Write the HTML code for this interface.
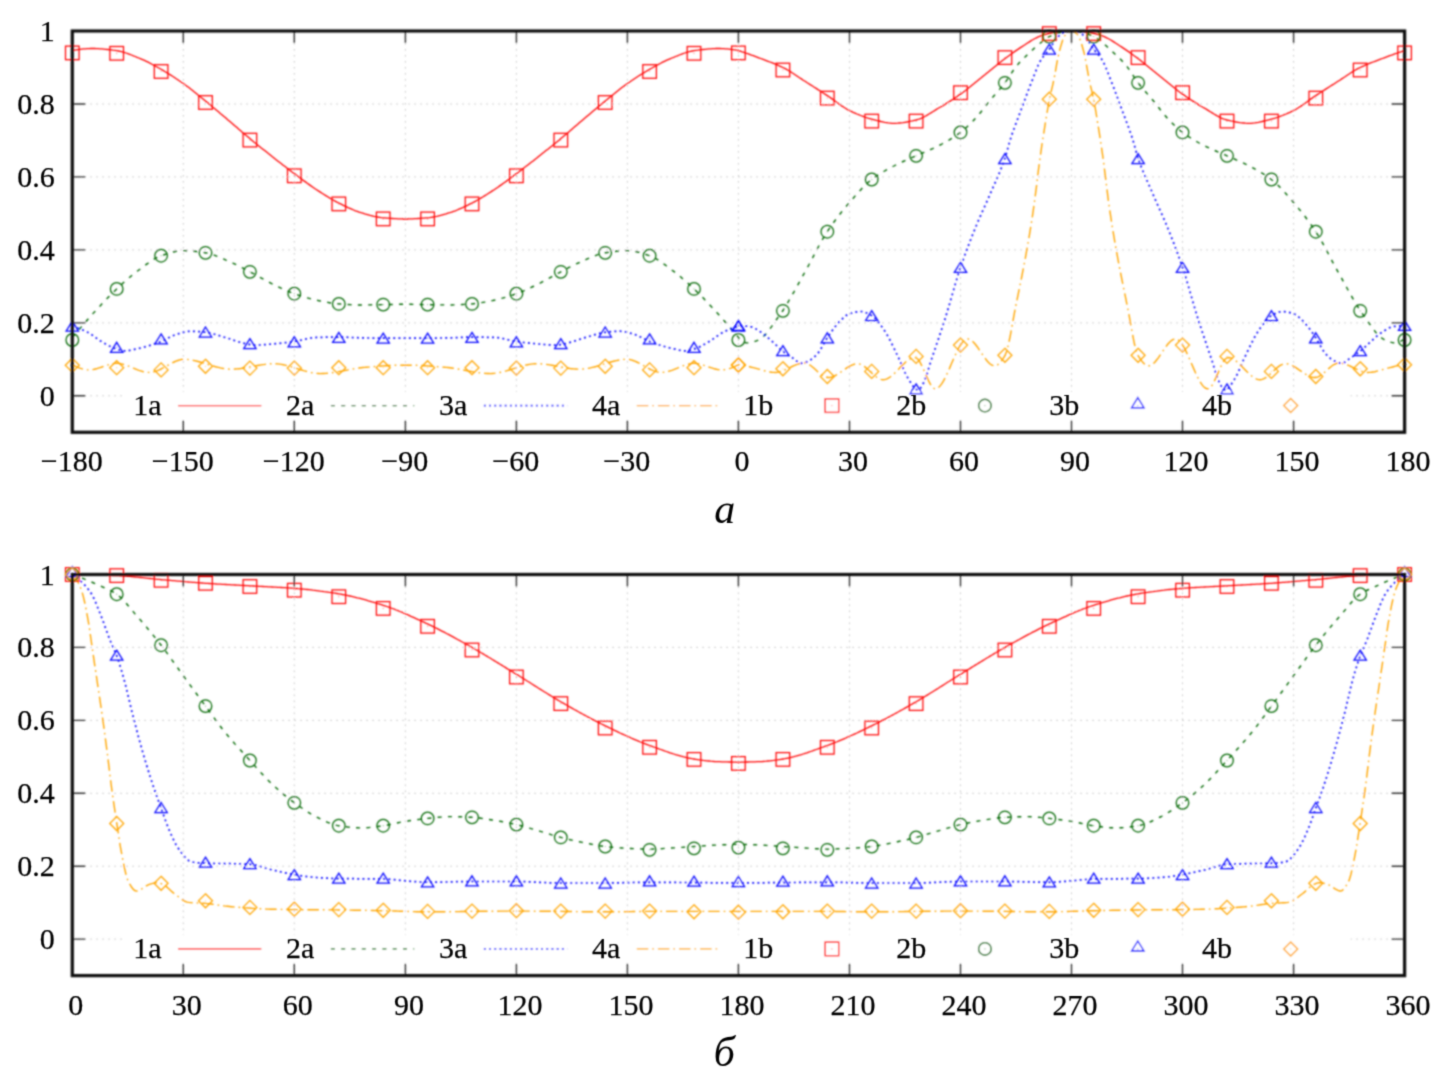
<!DOCTYPE html>
<html><head><meta charset="utf-8"><title>plot</title>
<style>
html,body{margin:0;padding:0;background:#fff;}
body{width:1452px;height:1080px;overflow:hidden;}
svg{display:block;}
.t{font-family:"Liberation Serif","Times New Roman",serif;font-size:30px;fill:#000;stroke:#000;stroke-width:0.25;}
.cap{font-family:"Liberation Serif","Times New Roman",serif;font-style:italic;font-size:42px;fill:#000;}
.grid{fill:none;stroke:#c6c6c6;stroke-width:1;stroke-dasharray:1.6 4.4;}
.tick{fill:none;stroke:#333;stroke-width:1.4;}
.frame{fill:none;stroke:#111;stroke-width:3.2;}
</style></head><body>
<svg width="1452" height="1080" viewBox="0 0 1452 1080">
<defs><filter id="bl" x="0" y="0" width="1452" height="1080" filterUnits="userSpaceOnUse"><feConvolveMatrix order="5" kernelMatrix="0.00087 0.00695 0.01388 0.00695 0.00087 0.00695 0.05540 0.11068 0.05540 0.00695 0.01388 0.11068 0.22111 0.11068 0.01388 0.00695 0.05540 0.11068 0.05540 0.00695 0.00087 0.00695 0.01388 0.00695 0.00087" edgeMode="none"/></filter><filter id="blt" x="0" y="0" width="1452" height="1080" filterUnits="userSpaceOnUse"><feConvolveMatrix order="5" kernelMatrix="0.00001 0.00042 0.00170 0.00042 0.00001 0.00042 0.02740 0.10988 0.02740 0.00042 0.00170 0.10988 0.44065 0.10988 0.00170 0.00042 0.02740 0.10988 0.02740 0.00042 0.00001 0.00042 0.00170 0.00042 0.00001" edgeMode="none"/></filter></defs>
<rect width="1452" height="1080" fill="#fff"/>
<g filter="url(#bl)">
<path d="M183.3,31.0V432.3M294.3,31.0V432.3M405.4,31.0V432.3M516.4,31.0V432.3M627.4,31.0V432.3M738.4,31.0V432.3M849.5,31.0V432.3M960.5,31.0V432.3M1071.5,31.0V432.3M1182.5,31.0V432.3M1293.6,31.0V432.3M72.3,395.8H1404.6M72.3,322.9H1404.6M72.3,249.9H1404.6M72.3,176.9H1404.6M72.3,104.0H1404.6" class="grid"/>
<rect x="123" y="391.8" width="1227.5" height="28" fill="#fff"/>
<path d="M72.3,50.5 L74.2,50.2 L76.0,49.9 L77.9,49.6 L79.7,49.3 L81.6,49.1 L83.4,48.9 L85.3,48.8 L87.1,48.7 L89.0,48.6 L90.8,48.5 L92.7,48.5 L94.5,48.5 L96.4,48.6 L98.2,48.7 L100.1,48.8 L101.9,48.9 L103.8,49.1 L105.6,49.3 L107.5,49.5 L109.3,49.7 L111.2,49.9 L113.0,50.2 L114.9,50.4 L116.7,50.7 L118.6,51.0 L120.4,51.4 L122.3,51.9 L124.1,52.4 L126.0,53.0 L127.8,53.6 L129.7,54.3 L131.5,55.0 L133.4,55.8 L135.2,56.5 L137.1,57.3 L138.9,58.0 L140.8,58.8 L142.6,59.6 L144.5,60.4 L146.3,61.3 L148.2,62.2 L150.0,63.2 L151.9,64.2 L153.7,65.2 L155.6,66.2 L157.4,67.2 L159.3,68.3 L161.1,69.3 L163.0,70.4 L164.8,71.5 L166.7,72.6 L168.5,73.7 L170.4,74.9 L172.2,76.0 L174.1,77.2 L175.9,78.5 L177.8,79.7 L179.6,81.0 L181.5,82.2 L183.3,83.5 L185.2,84.9 L187.0,86.2 L188.9,87.6 L190.7,89.1 L192.6,90.5 L194.4,92.0 L196.3,93.5 L198.1,95.0 L200.0,96.5 L201.8,98.0 L203.7,99.5 L205.5,101.0 L207.4,102.6 L209.2,104.1 L211.1,105.6 L212.9,107.2 L214.8,108.7 L216.6,110.3 L218.5,111.8 L220.3,113.4 L222.2,114.9 L224.0,116.5 L225.9,118.1 L227.7,119.7 L229.6,121.2 L231.4,122.8 L233.3,124.4 L235.1,126.0 L237.0,127.6 L238.8,129.2 L240.7,130.8 L242.5,132.4 L244.4,133.9 L246.2,135.5 L248.1,137.1 L249.9,138.6 L251.8,140.2 L253.6,141.7 L255.5,143.2 L257.3,144.7 L259.2,146.2 L261.0,147.7 L262.9,149.2 L264.7,150.6 L266.6,152.1 L268.4,153.6 L270.3,155.0 L272.1,156.5 L274.0,158.0 L275.8,159.4 L277.7,160.9 L279.5,162.3 L281.4,163.7 L283.2,165.2 L285.1,166.6 L286.9,168.0 L288.8,169.5 L290.6,170.9 L292.5,172.3 L294.3,173.6 L296.2,175.0 L298.1,176.4 L299.9,177.8 L301.8,179.2 L303.6,180.6 L305.5,181.9 L307.3,183.3 L309.2,184.6 L311.0,185.9 L312.9,187.2 L314.7,188.5 L316.6,189.7 L318.4,190.9 L320.3,192.1 L322.1,193.3 L324.0,194.5 L325.8,195.6 L327.7,196.8 L329.5,197.9 L331.4,199.0 L333.2,200.0 L335.1,201.1 L336.9,202.1 L338.8,203.0 L340.6,203.9 L342.5,204.9 L344.3,205.8 L346.2,206.7 L348.0,207.6 L349.9,208.4 L351.7,209.2 L353.6,210.0 L355.4,210.8 L357.3,211.4 L359.1,212.1 L361.0,212.7 L362.8,213.2 L364.7,213.8 L366.5,214.3 L368.4,214.8 L370.2,215.4 L372.1,215.8 L373.9,216.3 L375.8,216.7 L377.6,217.0 L379.5,217.3 L381.3,217.6 L383.2,217.8 L385.0,217.9 L386.9,218.1 L388.7,218.2 L390.6,218.4 L392.4,218.5 L394.3,218.6 L396.1,218.7 L398.0,218.8 L399.8,218.9 L401.7,218.9 L403.5,219.0 L405.4,219.0 L407.2,219.0 L409.1,218.9 L410.9,218.9 L412.8,218.8 L414.6,218.7 L416.5,218.6 L418.3,218.5 L420.2,218.4 L422.0,218.2 L423.9,218.1 L425.7,217.9 L427.6,217.8 L429.4,217.6 L431.3,217.3 L433.1,217.0 L435.0,216.7 L436.8,216.3 L438.7,215.8 L440.5,215.4 L442.4,214.8 L444.2,214.3 L446.1,213.8 L447.9,213.2 L449.8,212.7 L451.6,212.1 L453.5,211.4 L455.3,210.8 L457.2,210.0 L459.0,209.2 L460.9,208.4 L462.7,207.6 L464.6,206.7 L466.4,205.8 L468.3,204.9 L470.1,203.9 L472.0,203.0 L473.8,202.1 L475.7,201.1 L477.5,200.0 L479.4,199.0 L481.2,197.9 L483.1,196.8 L484.9,195.6 L486.8,194.5 L488.6,193.3 L490.5,192.1 L492.3,190.9 L494.2,189.7 L496.0,188.5 L497.9,187.2 L499.7,185.9 L501.6,184.6 L503.4,183.3 L505.3,181.9 L507.1,180.6 L509.0,179.2 L510.8,177.8 L512.7,176.4 L514.5,175.0 L516.4,173.6 L518.3,172.3 L520.1,170.9 L522.0,169.5 L523.8,168.0 L525.7,166.6 L527.5,165.2 L529.4,163.7 L531.2,162.3 L533.1,160.9 L534.9,159.4 L536.8,158.0 L538.6,156.5 L540.5,155.0 L542.3,153.6 L544.2,152.1 L546.0,150.6 L547.9,149.2 L549.7,147.7 L551.6,146.2 L553.4,144.7 L555.3,143.2 L557.1,141.7 L559.0,140.2 L560.8,138.6 L562.7,137.1 L564.5,135.5 L566.4,133.9 L568.2,132.4 L570.1,130.8 L571.9,129.2 L573.8,127.6 L575.6,126.0 L577.5,124.4 L579.3,122.8 L581.2,121.2 L583.0,119.7 L584.9,118.1 L586.7,116.5 L588.6,114.9 L590.4,113.4 L592.3,111.8 L594.1,110.3 L596.0,108.7 L597.8,107.2 L599.7,105.6 L601.5,104.1 L603.4,102.6 L605.2,101.0 L607.1,99.5 L608.9,98.0 L610.8,96.5 L612.6,95.0 L614.5,93.5 L616.3,92.0 L618.2,90.5 L620.0,89.1 L621.9,87.6 L623.7,86.2 L625.6,84.9 L627.4,83.5 L629.3,82.2 L631.1,81.0 L633.0,79.7 L634.8,78.5 L636.7,77.2 L638.5,76.0 L640.4,74.9 L642.2,73.7 L644.1,72.6 L645.9,71.5 L647.8,70.4 L649.6,69.3 L651.5,68.3 L653.3,67.2 L655.2,66.2 L657.0,65.2 L658.9,64.2 L660.7,63.2 L662.6,62.2 L664.4,61.3 L666.3,60.4 L668.1,59.6 L670.0,58.8 L671.8,58.0 L673.7,57.3 L675.5,56.5 L677.4,55.8 L679.2,55.0 L681.1,54.3 L682.9,53.6 L684.8,53.0 L686.6,52.4 L688.5,51.9 L690.3,51.4 L692.2,51.0 L694.0,50.7 L695.9,50.4 L697.7,50.2 L699.6,49.9 L701.4,49.7 L703.3,49.5 L705.1,49.3 L707.0,49.1 L708.8,48.9 L710.7,48.8 L712.5,48.7 L714.4,48.6 L716.2,48.5 L718.1,48.5 L719.9,48.5 L721.8,48.6 L723.6,48.7 L725.5,48.8 L727.3,48.9 L729.2,49.1 L731.0,49.3 L732.9,49.6 L734.7,49.9 L736.6,50.2 L738.4,50.5 L740.3,51.1 L742.2,51.8 L744.0,52.4 L745.9,53.1 L747.7,53.7 L749.6,54.4 L751.4,55.1 L753.3,55.7 L755.1,56.4 L757.0,57.1 L758.8,57.8 L760.7,58.5 L762.5,59.2 L764.4,59.9 L766.2,60.6 L768.1,61.3 L769.9,62.0 L771.8,62.7 L773.6,63.4 L775.5,64.2 L777.3,64.9 L779.2,65.8 L781.0,66.6 L782.9,67.5 L784.7,68.4 L786.6,69.4 L788.4,70.5 L790.3,71.6 L792.1,72.8 L794.0,74.0 L795.8,75.2 L797.7,76.5 L799.5,77.7 L801.4,78.9 L803.2,80.2 L805.1,81.3 L806.9,82.5 L808.8,83.7 L810.6,84.9 L812.5,86.0 L814.3,87.2 L816.2,88.4 L818.0,89.6 L819.9,90.8 L821.7,92.0 L823.6,93.2 L825.4,94.4 L827.3,95.6 L829.1,96.8 L831.0,98.1 L832.8,99.4 L834.7,100.8 L836.5,102.2 L838.4,103.5 L840.2,104.8 L842.1,106.1 L843.9,107.3 L845.8,108.5 L847.6,109.6 L849.5,110.5 L851.3,111.4 L853.2,112.3 L855.0,113.1 L856.9,114.0 L858.7,114.7 L860.6,115.5 L862.4,116.2 L864.3,116.9 L866.1,117.5 L868.0,118.1 L869.8,118.6 L871.7,119.1 L873.5,119.6 L875.4,120.1 L877.2,120.6 L879.1,121.0 L880.9,121.5 L882.8,121.9 L884.6,122.3 L886.5,122.6 L888.3,122.9 L890.2,123.1 L892.0,123.3 L893.9,123.3 L895.7,123.3 L897.6,123.2 L899.4,123.0 L901.3,122.8 L903.1,122.6 L905.0,122.3 L906.8,122.0 L908.7,121.6 L910.5,121.2 L912.4,120.9 L914.2,120.4 L916.1,120.0 L917.9,119.5 L919.8,118.9 L921.6,118.1 L923.5,117.2 L925.3,116.2 L927.2,115.1 L929.0,114.0 L930.9,112.9 L932.7,111.7 L934.6,110.6 L936.4,109.4 L938.3,108.3 L940.1,107.3 L942.0,106.2 L943.8,105.1 L945.7,103.9 L947.5,102.8 L949.4,101.6 L951.2,100.4 L953.1,99.2 L954.9,97.9 L956.8,96.7 L958.6,95.4 L960.5,94.1 L962.4,92.8 L964.2,91.4 L966.1,90.0 L967.9,88.6 L969.8,87.1 L971.6,85.6 L973.5,84.1 L975.3,82.6 L977.2,81.1 L979.0,79.6 L980.9,78.1 L982.7,76.6 L984.6,75.1 L986.4,73.6 L988.3,72.1 L990.1,70.6 L992.0,69.1 L993.8,67.5 L995.7,66.0 L997.5,64.5 L999.4,63.0 L1001.2,61.6 L1003.1,60.1 L1004.9,58.7 L1006.8,57.3 L1008.6,56.0 L1010.5,54.6 L1012.3,53.2 L1014.2,51.9 L1016.0,50.6 L1017.9,49.4 L1019.7,48.1 L1021.6,46.9 L1023.4,45.7 L1025.3,44.5 L1027.1,43.3 L1029.0,42.1 L1030.8,40.9 L1032.7,39.8 L1034.5,38.7 L1036.4,37.8 L1038.2,36.9 L1040.1,36.1 L1041.9,35.5 L1043.8,34.9 L1045.6,34.4 L1047.5,33.9 L1049.3,33.4 L1051.2,33.0 L1053.0,32.6 L1054.9,32.3 L1056.7,32.1 L1058.6,31.9 L1060.4,31.7 L1062.3,31.5 L1064.1,31.3 L1066.0,31.2 L1067.8,31.1 L1069.7,31.0 L1071.5,31.0 L1073.4,31.0 L1075.2,31.1 L1077.1,31.2 L1078.9,31.3 L1080.8,31.5 L1082.6,31.7 L1084.5,31.9 L1086.3,32.1 L1088.2,32.3 L1090.0,32.6 L1091.9,33.0 L1093.7,33.4 L1095.6,33.9 L1097.4,34.4 L1099.3,34.9 L1101.1,35.5 L1103.0,36.1 L1104.8,36.9 L1106.7,37.8 L1108.5,38.7 L1110.4,39.8 L1112.2,40.9 L1114.1,42.1 L1115.9,43.3 L1117.8,44.5 L1119.6,45.7 L1121.5,46.9 L1123.3,48.1 L1125.2,49.4 L1127.0,50.6 L1128.9,51.9 L1130.7,53.2 L1132.6,54.6 L1134.4,56.0 L1136.3,57.3 L1138.1,58.7 L1140.0,60.1 L1141.8,61.6 L1143.7,63.0 L1145.5,64.5 L1147.4,66.0 L1149.2,67.5 L1151.1,69.1 L1152.9,70.6 L1154.8,72.1 L1156.6,73.6 L1158.5,75.1 L1160.3,76.6 L1162.2,78.1 L1164.0,79.6 L1165.9,81.1 L1167.7,82.6 L1169.6,84.1 L1171.4,85.6 L1173.3,87.1 L1175.1,88.6 L1177.0,90.0 L1178.8,91.4 L1180.7,92.8 L1182.5,94.1 L1184.4,95.4 L1186.3,96.7 L1188.1,97.9 L1190.0,99.2 L1191.8,100.4 L1193.7,101.6 L1195.5,102.8 L1197.4,103.9 L1199.2,105.1 L1201.1,106.2 L1202.9,107.3 L1204.8,108.3 L1206.6,109.4 L1208.5,110.6 L1210.3,111.7 L1212.2,112.9 L1214.0,114.0 L1215.9,115.1 L1217.7,116.2 L1219.6,117.2 L1221.4,118.1 L1223.3,118.9 L1225.1,119.5 L1227.0,120.0 L1228.8,120.4 L1230.7,120.9 L1232.5,121.2 L1234.4,121.6 L1236.2,122.0 L1238.1,122.3 L1239.9,122.6 L1241.8,122.8 L1243.6,123.0 L1245.5,123.2 L1247.3,123.3 L1249.2,123.3 L1251.0,123.3 L1252.9,123.1 L1254.7,122.9 L1256.6,122.6 L1258.4,122.3 L1260.3,121.9 L1262.1,121.5 L1264.0,121.0 L1265.8,120.6 L1267.7,120.1 L1269.5,119.6 L1271.4,119.1 L1273.2,118.6 L1275.1,118.1 L1276.9,117.5 L1278.8,116.9 L1280.6,116.2 L1282.5,115.5 L1284.3,114.7 L1286.2,114.0 L1288.0,113.1 L1289.9,112.3 L1291.7,111.4 L1293.6,110.5 L1295.4,109.6 L1297.3,108.5 L1299.1,107.3 L1301.0,106.1 L1302.8,104.8 L1304.7,103.5 L1306.5,102.2 L1308.4,100.8 L1310.2,99.4 L1312.1,98.1 L1313.9,96.8 L1315.8,95.6 L1317.6,94.4 L1319.5,93.2 L1321.3,92.0 L1323.2,90.8 L1325.0,89.6 L1326.9,88.4 L1328.7,87.2 L1330.6,86.0 L1332.4,84.9 L1334.3,83.7 L1336.1,82.5 L1338.0,81.3 L1339.8,80.2 L1341.7,78.9 L1343.5,77.7 L1345.4,76.5 L1347.2,75.2 L1349.1,74.0 L1350.9,72.8 L1352.8,71.6 L1354.6,70.5 L1356.5,69.4 L1358.3,68.4 L1360.2,67.5 L1362.0,66.6 L1363.9,65.8 L1365.7,64.9 L1367.6,64.2 L1369.4,63.4 L1371.3,62.7 L1373.1,62.0 L1375.0,61.3 L1376.8,60.6 L1378.7,59.9 L1380.5,59.2 L1382.4,58.5 L1384.2,57.8 L1386.1,57.1 L1387.9,56.4 L1389.8,55.7 L1391.6,55.1 L1393.5,54.4 L1395.3,53.7 L1397.2,53.1 L1399.0,52.4 L1400.9,51.8 L1402.7,51.1 L1404.6,50.5" fill="none" stroke="#ff0000" style="stroke-width:1.3"/>
<path d="M72.3,337.4 L74.2,335.3 L76.0,333.1 L77.9,330.9 L79.7,328.8 L81.6,326.6 L83.4,324.5 L85.3,322.3 L87.1,320.2 L89.0,318.1 L90.8,316.0 L92.7,313.9 L94.5,311.9 L96.4,309.9 L98.2,307.9 L100.1,305.9 L101.9,303.9 L103.8,301.9 L105.6,300.0 L107.5,298.1 L109.3,296.2 L111.2,294.3 L113.0,292.5 L114.9,290.7 L116.7,288.9 L118.6,287.2 L120.4,285.5 L122.3,283.8 L124.1,282.1 L126.0,280.5 L127.8,278.9 L129.7,277.3 L131.5,275.7 L133.4,274.2 L135.2,272.8 L137.1,271.3 L138.9,270.0 L140.8,268.6 L142.6,267.2 L144.5,265.8 L146.3,264.4 L148.2,263.1 L150.0,261.7 L151.9,260.5 L153.7,259.3 L155.6,258.2 L157.4,257.3 L159.3,256.4 L161.1,255.7 L163.0,255.1 L164.8,254.5 L166.7,253.9 L168.5,253.3 L170.4,252.7 L172.2,252.2 L174.1,251.8 L175.9,251.4 L177.8,251.1 L179.6,250.8 L181.5,250.7 L183.3,250.6 L185.2,250.6 L187.0,250.7 L188.9,250.8 L190.7,250.9 L192.6,251.1 L194.4,251.3 L196.3,251.5 L198.1,251.7 L200.0,252.0 L201.8,252.2 L203.7,252.5 L205.5,252.8 L207.4,253.1 L209.2,253.6 L211.1,254.1 L212.9,254.7 L214.8,255.4 L216.6,256.1 L218.5,256.9 L220.3,257.6 L222.2,258.4 L224.0,259.2 L225.9,260.1 L227.7,260.8 L229.6,261.6 L231.4,262.5 L233.3,263.3 L235.1,264.2 L237.0,265.1 L238.8,266.0 L240.7,267.0 L242.5,267.9 L244.4,268.9 L246.2,269.9 L248.1,270.8 L249.9,271.8 L251.8,272.8 L253.6,273.7 L255.5,274.8 L257.3,275.8 L259.2,276.8 L261.0,277.9 L262.9,278.9 L264.7,279.9 L266.6,281.0 L268.4,281.9 L270.3,282.9 L272.1,283.8 L274.0,284.7 L275.8,285.6 L277.7,286.5 L279.5,287.4 L281.4,288.3 L283.2,289.1 L285.1,289.9 L286.9,290.8 L288.8,291.5 L290.6,292.3 L292.5,293.0 L294.3,293.7 L296.2,294.3 L298.1,295.0 L299.9,295.6 L301.8,296.2 L303.6,296.8 L305.5,297.4 L307.3,297.9 L309.2,298.4 L311.0,298.9 L312.9,299.4 L314.7,299.8 L316.6,300.2 L318.4,300.6 L320.3,301.0 L322.1,301.4 L324.0,301.8 L325.8,302.1 L327.7,302.4 L329.5,302.7 L331.4,303.0 L333.2,303.3 L335.1,303.5 L336.9,303.7 L338.8,303.9 L340.6,304.0 L342.5,304.2 L344.3,304.3 L346.2,304.4 L348.0,304.5 L349.9,304.6 L351.7,304.7 L353.6,304.8 L355.4,304.9 L357.3,304.9 L359.1,305.0 L361.0,305.0 L362.8,305.0 L364.7,305.0 L366.5,304.9 L368.4,304.9 L370.2,304.9 L372.1,304.8 L373.9,304.8 L375.8,304.8 L377.6,304.7 L379.5,304.7 L381.3,304.6 L383.2,304.6 L385.0,304.6 L386.9,304.6 L388.7,304.5 L390.6,304.5 L392.4,304.5 L394.3,304.4 L396.1,304.4 L398.0,304.4 L399.8,304.3 L401.7,304.3 L403.5,304.3 L405.4,304.2 L407.2,304.3 L409.1,304.3 L410.9,304.3 L412.8,304.4 L414.6,304.4 L416.5,304.4 L418.3,304.5 L420.2,304.5 L422.0,304.5 L423.9,304.6 L425.7,304.6 L427.6,304.6 L429.4,304.6 L431.3,304.7 L433.1,304.7 L435.0,304.8 L436.8,304.8 L438.7,304.8 L440.5,304.9 L442.4,304.9 L444.2,304.9 L446.1,305.0 L447.9,305.0 L449.8,305.0 L451.6,305.0 L453.5,304.9 L455.3,304.9 L457.2,304.8 L459.0,304.7 L460.9,304.6 L462.7,304.5 L464.6,304.4 L466.4,304.3 L468.3,304.2 L470.1,304.0 L472.0,303.9 L473.8,303.7 L475.7,303.5 L477.5,303.3 L479.4,303.0 L481.2,302.7 L483.1,302.4 L484.9,302.1 L486.8,301.8 L488.6,301.4 L490.5,301.0 L492.3,300.6 L494.2,300.2 L496.0,299.8 L497.9,299.4 L499.7,298.9 L501.6,298.4 L503.4,297.9 L505.3,297.4 L507.1,296.8 L509.0,296.2 L510.8,295.6 L512.7,295.0 L514.5,294.3 L516.4,293.7 L518.3,293.0 L520.1,292.3 L522.0,291.5 L523.8,290.8 L525.7,289.9 L527.5,289.1 L529.4,288.3 L531.2,287.4 L533.1,286.5 L534.9,285.6 L536.8,284.7 L538.6,283.8 L540.5,282.9 L542.3,281.9 L544.2,281.0 L546.0,279.9 L547.9,278.9 L549.7,277.9 L551.6,276.8 L553.4,275.8 L555.3,274.8 L557.1,273.7 L559.0,272.8 L560.8,271.8 L562.7,270.8 L564.5,269.9 L566.4,268.9 L568.2,267.9 L570.1,267.0 L571.9,266.0 L573.8,265.1 L575.6,264.2 L577.5,263.3 L579.3,262.5 L581.2,261.6 L583.0,260.8 L584.9,260.1 L586.7,259.2 L588.6,258.4 L590.4,257.6 L592.3,256.9 L594.1,256.1 L596.0,255.4 L597.8,254.7 L599.7,254.1 L601.5,253.6 L603.4,253.1 L605.2,252.8 L607.1,252.5 L608.9,252.2 L610.8,252.0 L612.6,251.7 L614.5,251.5 L616.3,251.3 L618.2,251.1 L620.0,250.9 L621.9,250.8 L623.7,250.7 L625.6,250.6 L627.4,250.6 L629.3,250.7 L631.1,250.8 L633.0,251.1 L634.8,251.4 L636.7,251.8 L638.5,252.2 L640.4,252.7 L642.2,253.3 L644.1,253.9 L645.9,254.5 L647.8,255.1 L649.6,255.7 L651.5,256.4 L653.3,257.3 L655.2,258.2 L657.0,259.3 L658.9,260.5 L660.7,261.7 L662.6,263.1 L664.4,264.4 L666.3,265.8 L668.1,267.2 L670.0,268.6 L671.8,270.0 L673.7,271.3 L675.5,272.8 L677.4,274.2 L679.2,275.7 L681.1,277.3 L682.9,278.9 L684.8,280.5 L686.6,282.1 L688.5,283.8 L690.3,285.5 L692.2,287.2 L694.0,288.9 L695.9,290.7 L697.7,292.5 L699.6,294.3 L701.4,296.2 L703.3,298.1 L705.1,300.0 L707.0,301.9 L708.8,303.9 L710.7,305.9 L712.5,307.9 L714.4,309.9 L716.2,311.9 L718.1,313.9 L719.9,316.0 L721.8,318.1 L723.6,320.2 L725.5,322.3 L727.3,324.5 L729.2,326.6 L731.0,328.8 L732.9,330.9 L734.7,333.1 L736.6,335.3 L738.4,337.4 L740.3,340.0 L742.2,341.2 L744.0,342.1 L745.9,342.7 L747.7,342.9 L749.6,342.8 L751.4,342.4 L753.3,341.9 L755.1,341.3 L757.0,340.7 L758.8,339.7 L760.7,338.5 L762.5,337.2 L764.4,335.6 L766.2,333.7 L768.1,331.3 L769.9,328.8 L771.8,326.3 L773.6,323.7 L775.5,321.0 L777.3,318.3 L779.2,315.8 L781.0,313.2 L782.9,310.5 L784.7,307.6 L786.6,304.6 L788.4,301.5 L790.3,298.3 L792.1,295.1 L794.0,291.8 L795.8,288.5 L797.7,285.1 L799.5,281.8 L801.4,278.4 L803.2,275.1 L805.1,271.8 L806.9,268.4 L808.8,265.0 L810.6,261.6 L812.5,258.0 L814.3,254.5 L816.2,251.0 L818.0,247.5 L819.9,244.1 L821.7,240.8 L823.6,237.6 L825.4,234.6 L827.3,231.7 L829.1,228.9 L831.0,226.2 L832.8,223.5 L834.7,221.0 L836.5,218.5 L838.4,216.0 L840.2,213.7 L842.1,211.3 L843.9,209.1 L845.8,206.8 L847.6,204.6 L849.5,202.5 L851.3,200.3 L853.2,198.2 L855.0,196.1 L856.9,194.0 L858.7,191.9 L860.6,189.9 L862.4,187.9 L864.3,186.1 L866.1,184.3 L868.0,182.6 L869.8,181.0 L871.7,179.5 L873.5,178.1 L875.4,176.8 L877.2,175.5 L879.1,174.3 L880.9,173.2 L882.8,172.1 L884.6,171.0 L886.5,169.9 L888.3,168.9 L890.2,167.9 L892.0,167.0 L893.9,166.0 L895.7,165.0 L897.6,164.1 L899.4,163.2 L901.3,162.4 L903.1,161.5 L905.0,160.7 L906.8,159.9 L908.7,159.0 L910.5,158.2 L912.4,157.4 L914.2,156.6 L916.1,155.8 L917.9,154.9 L919.8,154.1 L921.6,153.4 L923.5,152.6 L925.3,151.8 L927.2,151.0 L929.0,150.2 L930.9,149.4 L932.7,148.6 L934.6,147.7 L936.4,146.8 L938.3,145.9 L940.1,145.0 L942.0,144.0 L943.8,143.0 L945.7,142.0 L947.5,140.9 L949.4,139.8 L951.2,138.7 L953.1,137.5 L954.9,136.3 L956.8,135.1 L958.6,133.8 L960.5,132.4 L962.4,131.0 L964.2,129.4 L966.1,127.8 L967.9,126.1 L969.8,124.3 L971.6,122.4 L973.5,120.5 L975.3,118.6 L977.2,116.5 L979.0,114.3 L980.9,112.0 L982.7,109.7 L984.6,107.3 L986.4,104.9 L988.3,102.6 L990.1,100.3 L992.0,98.1 L993.8,96.0 L995.7,93.9 L997.5,91.7 L999.4,89.6 L1001.2,87.4 L1003.1,85.2 L1004.9,82.8 L1006.8,80.2 L1008.6,77.5 L1010.5,74.6 L1012.3,71.8 L1014.2,69.1 L1016.0,66.6 L1017.9,64.4 L1019.7,62.3 L1021.6,60.3 L1023.4,58.5 L1025.3,56.7 L1027.1,54.9 L1029.0,53.2 L1030.8,51.4 L1032.7,49.7 L1034.5,48.0 L1036.4,46.3 L1038.2,44.7 L1040.1,43.2 L1041.9,41.7 L1043.8,40.2 L1045.6,38.8 L1047.5,37.5 L1049.3,36.5 L1051.2,35.6 L1053.0,34.8 L1054.9,34.1 L1056.7,33.4 L1058.6,32.9 L1060.4,32.5 L1062.3,32.1 L1064.1,31.8 L1066.0,31.5 L1067.8,31.2 L1069.7,31.1 L1071.5,31.0 L1073.4,31.1 L1075.2,31.2 L1077.1,31.5 L1078.9,31.8 L1080.8,32.1 L1082.6,32.5 L1084.5,32.9 L1086.3,33.4 L1088.2,34.1 L1090.0,34.8 L1091.9,35.6 L1093.7,36.5 L1095.6,37.5 L1097.4,38.8 L1099.3,40.2 L1101.1,41.7 L1103.0,43.2 L1104.8,44.7 L1106.7,46.3 L1108.5,48.0 L1110.4,49.7 L1112.2,51.4 L1114.1,53.2 L1115.9,54.9 L1117.8,56.7 L1119.6,58.5 L1121.5,60.3 L1123.3,62.3 L1125.2,64.4 L1127.0,66.6 L1128.9,69.1 L1130.7,71.8 L1132.6,74.6 L1134.4,77.5 L1136.3,80.2 L1138.1,82.8 L1140.0,85.2 L1141.8,87.4 L1143.7,89.6 L1145.5,91.7 L1147.4,93.9 L1149.2,96.0 L1151.1,98.1 L1152.9,100.3 L1154.8,102.6 L1156.6,104.9 L1158.5,107.3 L1160.3,109.7 L1162.2,112.0 L1164.0,114.3 L1165.9,116.5 L1167.7,118.6 L1169.6,120.5 L1171.4,122.4 L1173.3,124.3 L1175.1,126.1 L1177.0,127.8 L1178.8,129.4 L1180.7,131.0 L1182.5,132.4 L1184.4,133.8 L1186.3,135.1 L1188.1,136.3 L1190.0,137.5 L1191.8,138.7 L1193.7,139.8 L1195.5,140.9 L1197.4,142.0 L1199.2,143.0 L1201.1,144.0 L1202.9,145.0 L1204.8,145.9 L1206.6,146.8 L1208.5,147.7 L1210.3,148.6 L1212.2,149.4 L1214.0,150.2 L1215.9,151.0 L1217.7,151.8 L1219.6,152.6 L1221.4,153.4 L1223.3,154.1 L1225.1,154.9 L1227.0,155.8 L1228.8,156.6 L1230.7,157.4 L1232.5,158.2 L1234.4,159.0 L1236.2,159.9 L1238.1,160.7 L1239.9,161.5 L1241.8,162.4 L1243.6,163.2 L1245.5,164.1 L1247.3,165.0 L1249.2,166.0 L1251.0,167.0 L1252.9,167.9 L1254.7,168.9 L1256.6,169.9 L1258.4,171.0 L1260.3,172.1 L1262.1,173.2 L1264.0,174.3 L1265.8,175.5 L1267.7,176.8 L1269.5,178.1 L1271.4,179.5 L1273.2,181.0 L1275.1,182.6 L1276.9,184.3 L1278.8,186.1 L1280.6,187.9 L1282.5,189.9 L1284.3,191.9 L1286.2,194.0 L1288.0,196.1 L1289.9,198.2 L1291.7,200.3 L1293.6,202.5 L1295.4,204.6 L1297.3,206.8 L1299.1,209.1 L1301.0,211.3 L1302.8,213.7 L1304.7,216.0 L1306.5,218.5 L1308.4,221.0 L1310.2,223.5 L1312.1,226.2 L1313.9,228.9 L1315.8,231.7 L1317.6,234.6 L1319.5,237.6 L1321.3,240.8 L1323.2,244.1 L1325.0,247.5 L1326.9,251.0 L1328.7,254.5 L1330.6,258.0 L1332.4,261.6 L1334.3,265.0 L1336.1,268.4 L1338.0,271.8 L1339.8,275.1 L1341.7,278.4 L1343.5,281.8 L1345.4,285.1 L1347.2,288.5 L1349.1,291.8 L1350.9,295.1 L1352.8,298.3 L1354.6,301.5 L1356.5,304.6 L1358.3,307.6 L1360.2,310.5 L1362.0,313.2 L1363.9,315.8 L1365.7,318.3 L1367.6,321.0 L1369.4,323.7 L1371.3,326.3 L1373.1,328.8 L1375.0,331.3 L1376.8,333.7 L1378.7,335.6 L1380.5,337.2 L1382.4,338.5 L1384.2,339.7 L1386.1,340.7 L1387.9,341.3 L1389.8,341.9 L1391.6,342.4 L1393.5,342.8 L1395.3,342.9 L1397.2,342.7 L1399.0,342.1 L1400.9,341.2 L1402.7,340.0 L1404.6,338.5" fill="none" stroke="#006600" style="stroke-width:1.4;stroke-dasharray:4 6.3"/>
<path d="M72.3,326.5 L74.2,327.0 L76.0,327.5 L77.9,328.1 L79.7,328.8 L81.6,329.5 L83.4,330.3 L85.3,331.1 L87.1,332.0 L89.0,333.0 L90.8,334.1 L92.7,335.4 L94.5,336.7 L96.4,338.1 L98.2,339.4 L100.1,340.7 L101.9,341.8 L103.8,342.9 L105.6,343.9 L107.5,344.9 L109.3,345.9 L111.2,346.9 L113.0,347.7 L114.9,348.5 L116.7,349.1 L118.6,349.7 L120.4,350.3 L122.3,350.8 L124.1,350.9 L126.0,350.9 L127.8,350.7 L129.7,350.4 L131.5,350.1 L133.4,349.7 L135.2,349.2 L137.1,348.8 L138.9,348.4 L140.8,348.0 L142.6,347.5 L144.5,347.0 L146.3,346.5 L148.2,346.0 L150.0,345.4 L151.9,344.8 L153.7,344.1 L155.6,343.5 L157.4,342.8 L159.3,342.2 L161.1,341.5 L163.0,340.7 L164.8,339.8 L166.7,338.8 L168.5,337.8 L170.4,336.9 L172.2,336.0 L174.1,335.2 L175.9,334.5 L177.8,334.0 L179.6,333.4 L181.5,332.8 L183.3,332.3 L185.2,331.9 L187.0,331.5 L188.9,331.3 L190.7,331.2 L192.6,331.3 L194.4,331.3 L196.3,331.4 L198.1,331.6 L200.0,331.7 L201.8,331.9 L203.7,332.1 L205.5,332.3 L207.4,332.6 L209.2,332.9 L211.1,333.3 L212.9,333.8 L214.8,334.3 L216.6,334.9 L218.5,335.4 L220.3,336.0 L222.2,336.5 L224.0,337.1 L225.9,337.6 L227.7,338.2 L229.6,338.8 L231.4,339.5 L233.3,340.1 L235.1,340.7 L237.0,341.3 L238.8,341.9 L240.7,342.4 L242.5,342.9 L244.4,343.4 L246.2,343.9 L248.1,344.3 L249.9,344.7 L251.8,345.0 L253.6,345.1 L255.5,345.1 L257.3,345.0 L259.2,345.0 L261.0,344.9 L262.9,344.7 L264.7,344.6 L266.6,344.5 L268.4,344.3 L270.3,344.2 L272.1,344.0 L274.0,343.9 L275.8,343.7 L277.7,343.5 L279.5,343.3 L281.4,343.1 L283.2,342.9 L285.1,342.7 L286.9,342.5 L288.8,342.2 L290.6,342.0 L292.5,341.7 L294.3,341.5 L296.2,341.2 L298.1,340.8 L299.9,340.4 L301.8,340.0 L303.6,339.6 L305.5,339.1 L307.3,338.7 L309.2,338.4 L311.0,338.0 L312.9,337.7 L314.7,337.6 L316.6,337.4 L318.4,337.4 L320.3,337.3 L322.1,337.3 L324.0,337.3 L325.8,337.2 L327.7,337.2 L329.5,337.2 L331.4,337.1 L333.2,337.1 L335.1,337.1 L336.9,337.1 L338.8,337.1 L340.6,337.1 L342.5,337.1 L344.3,337.2 L346.2,337.2 L348.0,337.3 L349.9,337.4 L351.7,337.5 L353.6,337.6 L355.4,337.6 L357.3,337.7 L359.1,337.8 L361.0,337.8 L362.8,337.9 L364.7,337.9 L366.5,337.9 L368.4,338.0 L370.2,338.0 L372.1,338.1 L373.9,338.1 L375.8,338.1 L377.6,338.1 L379.5,338.2 L381.3,338.2 L383.2,338.2 L385.0,338.2 L386.9,338.2 L388.7,338.2 L390.6,338.2 L392.4,338.2 L394.3,338.2 L396.1,338.2 L398.0,338.2 L399.8,338.2 L401.7,338.2 L403.5,338.2 L405.4,338.2 L407.2,338.2 L409.1,338.2 L410.9,338.2 L412.8,338.2 L414.6,338.2 L416.5,338.2 L418.3,338.2 L420.2,338.2 L422.0,338.2 L423.9,338.2 L425.7,338.2 L427.6,338.2 L429.4,338.2 L431.3,338.2 L433.1,338.1 L435.0,338.1 L436.8,338.1 L438.7,338.1 L440.5,338.0 L442.4,338.0 L444.2,337.9 L446.1,337.9 L447.9,337.9 L449.8,337.8 L451.6,337.8 L453.5,337.7 L455.3,337.6 L457.2,337.6 L459.0,337.5 L460.9,337.4 L462.7,337.3 L464.6,337.2 L466.4,337.2 L468.3,337.1 L470.1,337.1 L472.0,337.1 L473.8,337.1 L475.7,337.1 L477.5,337.1 L479.4,337.1 L481.2,337.2 L483.1,337.2 L484.9,337.2 L486.8,337.3 L488.6,337.3 L490.5,337.3 L492.3,337.4 L494.2,337.4 L496.0,337.6 L497.9,337.7 L499.7,338.0 L501.6,338.4 L503.4,338.7 L505.3,339.1 L507.1,339.6 L509.0,340.0 L510.8,340.4 L512.7,340.8 L514.5,341.2 L516.4,341.5 L518.3,341.7 L520.1,342.0 L522.0,342.2 L523.8,342.5 L525.7,342.7 L527.5,342.9 L529.4,343.1 L531.2,343.3 L533.1,343.5 L534.9,343.7 L536.8,343.9 L538.6,344.0 L540.5,344.2 L542.3,344.3 L544.2,344.5 L546.0,344.6 L547.9,344.7 L549.7,344.9 L551.6,345.0 L553.4,345.0 L555.3,345.1 L557.1,345.1 L559.0,345.0 L560.8,344.7 L562.7,344.3 L564.5,343.9 L566.4,343.4 L568.2,342.9 L570.1,342.4 L571.9,341.9 L573.8,341.3 L575.6,340.7 L577.5,340.1 L579.3,339.5 L581.2,338.8 L583.0,338.2 L584.9,337.6 L586.7,337.1 L588.6,336.5 L590.4,336.0 L592.3,335.4 L594.1,334.9 L596.0,334.3 L597.8,333.8 L599.7,333.3 L601.5,332.9 L603.4,332.6 L605.2,332.3 L607.1,332.1 L608.9,331.9 L610.8,331.7 L612.6,331.6 L614.5,331.4 L616.3,331.3 L618.2,331.3 L620.0,331.2 L621.9,331.3 L623.7,331.5 L625.6,331.9 L627.4,332.3 L629.3,332.8 L631.1,333.4 L633.0,334.0 L634.8,334.5 L636.7,335.2 L638.5,336.0 L640.4,336.9 L642.2,337.8 L644.1,338.8 L645.9,339.8 L647.8,340.7 L649.6,341.5 L651.5,342.2 L653.3,342.8 L655.2,343.5 L657.0,344.1 L658.9,344.8 L660.7,345.4 L662.6,346.0 L664.4,346.5 L666.3,347.0 L668.1,347.5 L670.0,348.0 L671.8,348.4 L673.7,348.8 L675.5,349.2 L677.4,349.7 L679.2,350.1 L681.1,350.4 L682.9,350.7 L684.8,350.9 L686.6,350.9 L688.5,350.8 L690.3,350.3 L692.2,349.7 L694.0,349.1 L695.9,348.5 L697.7,347.7 L699.6,346.9 L701.4,345.9 L703.3,344.9 L705.1,343.9 L707.0,342.9 L708.8,341.8 L710.7,340.7 L712.5,339.4 L714.4,338.1 L716.2,336.7 L718.1,335.4 L719.9,334.1 L721.8,333.0 L723.6,332.0 L725.5,331.1 L727.3,330.3 L729.2,329.5 L731.0,328.8 L732.9,328.1 L734.7,327.5 L736.6,327.0 L738.4,326.5 L740.3,325.8 L742.2,325.9 L744.0,326.0 L745.9,326.1 L747.7,326.3 L749.6,326.5 L751.4,326.9 L753.3,327.6 L755.1,328.5 L757.0,329.6 L758.8,330.8 L760.7,332.0 L762.5,333.2 L764.4,334.6 L766.2,336.2 L768.1,337.8 L769.9,339.5 L771.8,341.1 L773.6,342.8 L775.5,344.5 L777.3,346.3 L779.2,348.1 L781.0,349.8 L782.9,351.3 L784.7,352.7 L786.6,354.0 L788.4,355.2 L790.3,356.4 L792.1,357.6 L794.0,358.9 L795.8,360.5 L797.7,361.9 L799.5,362.9 L801.4,363.3 L803.2,363.1 L805.1,362.6 L806.9,361.8 L808.8,360.9 L810.6,359.9 L812.5,358.6 L814.3,357.0 L816.2,355.2 L818.0,353.1 L819.9,350.6 L821.7,347.5 L823.6,344.2 L825.4,340.8 L827.3,337.8 L829.1,335.1 L831.0,332.3 L832.8,329.7 L834.7,327.2 L836.5,324.9 L838.4,322.9 L840.2,320.9 L842.1,319.1 L843.9,317.3 L845.8,315.8 L847.6,314.6 L849.5,313.7 L851.3,313.2 L853.2,312.6 L855.0,312.2 L856.9,311.9 L858.7,311.6 L860.6,311.5 L862.4,311.7 L864.3,312.1 L866.1,312.8 L868.0,313.6 L869.8,314.6 L871.7,315.6 L873.5,316.9 L875.4,318.7 L877.2,320.9 L879.1,323.1 L880.9,325.5 L882.8,328.0 L884.6,330.8 L886.5,333.8 L888.3,337.0 L890.2,340.5 L892.0,344.2 L893.9,348.0 L895.7,351.9 L897.6,355.7 L899.4,359.7 L901.3,364.0 L903.1,368.3 L905.0,372.5 L906.8,376.2 L908.7,379.4 L910.5,382.3 L912.4,385.3 L914.2,387.8 L916.1,389.7 L917.9,390.3 L919.8,389.2 L921.6,386.4 L923.5,383.0 L925.3,378.8 L927.2,373.2 L929.0,367.1 L930.9,361.2 L932.7,355.7 L934.6,350.3 L936.4,344.8 L938.3,339.4 L940.1,333.9 L942.0,328.3 L943.8,322.7 L945.7,316.9 L947.5,310.8 L949.4,304.5 L951.2,298.1 L953.1,291.7 L954.9,285.3 L956.8,279.1 L958.6,273.1 L960.5,267.4 L962.4,262.0 L964.2,256.8 L966.1,251.7 L967.9,246.8 L969.8,242.0 L971.6,237.2 L973.5,232.6 L975.3,228.0 L977.2,223.5 L979.0,219.2 L980.9,215.0 L982.7,210.8 L984.6,206.7 L986.4,202.6 L988.3,198.4 L990.1,194.1 L992.0,189.8 L993.8,185.6 L995.7,181.5 L997.5,177.3 L999.4,172.9 L1001.2,168.4 L1003.1,163.5 L1004.9,158.3 L1006.8,152.2 L1008.6,145.3 L1010.5,139.0 L1012.3,133.4 L1014.2,128.2 L1016.0,123.3 L1017.9,118.4 L1019.7,113.5 L1021.6,108.5 L1023.4,103.5 L1025.3,98.5 L1027.1,93.5 L1029.0,88.6 L1030.8,83.9 L1032.7,79.2 L1034.5,74.3 L1036.4,69.6 L1038.2,65.2 L1040.1,61.4 L1041.9,58.3 L1043.8,55.8 L1045.6,53.7 L1047.5,51.6 L1049.3,49.2 L1051.2,46.5 L1053.0,43.4 L1054.9,40.5 L1056.7,38.0 L1058.6,36.2 L1060.4,34.6 L1062.3,33.3 L1064.1,32.5 L1066.0,31.9 L1067.8,31.4 L1069.7,31.1 L1071.5,31.0 L1073.4,31.1 L1075.2,31.4 L1077.1,31.9 L1078.9,32.5 L1080.8,33.3 L1082.6,34.6 L1084.5,36.2 L1086.3,38.0 L1088.2,40.5 L1090.0,43.4 L1091.9,46.5 L1093.7,49.2 L1095.6,51.6 L1097.4,53.7 L1099.3,55.8 L1101.1,58.3 L1103.0,61.4 L1104.8,65.2 L1106.7,69.6 L1108.5,74.3 L1110.4,79.2 L1112.2,83.9 L1114.1,88.6 L1115.9,93.5 L1117.8,98.5 L1119.6,103.5 L1121.5,108.5 L1123.3,113.5 L1125.2,118.4 L1127.0,123.3 L1128.9,128.2 L1130.7,133.4 L1132.6,139.0 L1134.4,145.3 L1136.3,152.2 L1138.1,158.3 L1140.0,163.5 L1141.8,168.4 L1143.7,172.9 L1145.5,177.3 L1147.4,181.5 L1149.2,185.6 L1151.1,189.8 L1152.9,194.1 L1154.8,198.4 L1156.6,202.6 L1158.5,206.7 L1160.3,210.8 L1162.2,215.0 L1164.0,219.2 L1165.9,223.5 L1167.7,228.0 L1169.6,232.6 L1171.4,237.2 L1173.3,242.0 L1175.1,246.8 L1177.0,251.7 L1178.8,256.8 L1180.7,262.0 L1182.5,267.4 L1184.4,273.1 L1186.3,279.1 L1188.1,285.3 L1190.0,291.7 L1191.8,298.1 L1193.7,304.5 L1195.5,310.8 L1197.4,316.9 L1199.2,322.7 L1201.1,328.3 L1202.9,333.9 L1204.8,339.4 L1206.6,344.8 L1208.5,350.3 L1210.3,355.7 L1212.2,361.2 L1214.0,367.1 L1215.9,373.2 L1217.7,378.8 L1219.6,383.0 L1221.4,386.4 L1223.3,389.2 L1225.1,390.3 L1227.0,389.7 L1228.8,387.8 L1230.7,385.3 L1232.5,382.3 L1234.4,379.4 L1236.2,376.2 L1238.1,372.5 L1239.9,368.3 L1241.8,364.0 L1243.6,359.7 L1245.5,355.7 L1247.3,351.9 L1249.2,348.0 L1251.0,344.2 L1252.9,340.5 L1254.7,337.0 L1256.6,333.8 L1258.4,330.8 L1260.3,328.0 L1262.1,325.5 L1264.0,323.1 L1265.8,320.9 L1267.7,318.7 L1269.5,316.9 L1271.4,315.6 L1273.2,314.6 L1275.1,313.6 L1276.9,312.8 L1278.8,312.1 L1280.6,311.7 L1282.5,311.5 L1284.3,311.6 L1286.2,311.9 L1288.0,312.2 L1289.9,312.6 L1291.7,313.2 L1293.6,313.7 L1295.4,314.6 L1297.3,315.8 L1299.1,317.3 L1301.0,319.1 L1302.8,320.9 L1304.7,322.9 L1306.5,324.9 L1308.4,327.2 L1310.2,329.7 L1312.1,332.3 L1313.9,335.1 L1315.8,337.8 L1317.6,340.8 L1319.5,344.2 L1321.3,347.5 L1323.2,350.6 L1325.0,353.1 L1326.9,355.2 L1328.7,357.0 L1330.6,358.6 L1332.4,359.9 L1334.3,360.9 L1336.1,361.8 L1338.0,362.6 L1339.8,363.1 L1341.7,363.3 L1343.5,362.9 L1345.4,361.9 L1347.2,360.5 L1349.1,358.9 L1350.9,357.6 L1352.8,356.4 L1354.6,355.2 L1356.5,354.0 L1358.3,352.7 L1360.2,351.3 L1362.0,349.8 L1363.9,348.1 L1365.7,346.3 L1367.6,344.5 L1369.4,342.8 L1371.3,341.1 L1373.1,339.5 L1375.0,337.8 L1376.8,336.2 L1378.7,334.6 L1380.5,333.2 L1382.4,332.0 L1384.2,330.8 L1386.1,329.6 L1387.9,328.5 L1389.8,327.6 L1391.6,326.9 L1393.5,326.5 L1395.3,326.3 L1397.2,326.1 L1399.0,326.0 L1400.9,325.9 L1402.7,325.8 L1404.6,325.8" fill="none" stroke="#0000ff" style="stroke-width:1.7;stroke-dasharray:1.9 3.3"/>
<path d="M72.3,364.8 L74.2,365.7 L76.0,366.6 L77.9,367.4 L79.7,368.1 L81.6,368.7 L83.4,369.2 L85.3,369.6 L87.1,369.8 L89.0,369.9 L90.8,369.8 L92.7,369.6 L94.5,369.2 L96.4,368.8 L98.2,368.2 L100.1,367.6 L101.9,367.0 L103.8,366.3 L105.6,365.7 L107.5,365.1 L109.3,364.5 L111.2,364.0 L113.0,363.7 L114.9,363.4 L116.7,363.3 L118.6,363.4 L120.4,363.7 L122.3,364.1 L124.1,364.5 L126.0,365.1 L127.8,365.8 L129.7,366.5 L131.5,367.3 L133.4,368.1 L135.2,368.8 L137.1,369.6 L138.9,370.3 L140.8,370.9 L142.6,371.5 L144.5,371.9 L146.3,372.3 L148.2,372.4 L150.0,372.5 L151.9,372.3 L153.7,371.9 L155.6,371.3 L157.4,370.6 L159.3,369.8 L161.1,368.9 L163.0,368.0 L164.8,366.9 L166.7,365.9 L168.5,364.9 L170.4,363.8 L172.2,362.9 L174.1,362.0 L175.9,361.2 L177.8,360.5 L179.6,359.9 L181.5,359.5 L183.3,359.4 L185.2,359.4 L187.0,359.4 L188.9,359.6 L190.7,359.9 L192.6,360.2 L194.4,360.6 L196.3,361.0 L198.1,361.5 L200.0,362.0 L201.8,362.5 L203.7,363.1 L205.5,363.6 L207.4,364.2 L209.2,364.8 L211.1,365.4 L212.9,365.9 L214.8,366.5 L216.6,367.0 L218.5,367.4 L220.3,367.9 L222.2,368.3 L224.0,368.6 L225.9,368.9 L227.7,369.0 L229.6,369.2 L231.4,369.2 L233.3,369.1 L235.1,369.0 L237.0,368.9 L238.8,368.7 L240.7,368.5 L242.5,368.2 L244.4,367.9 L246.2,367.6 L248.1,367.3 L249.9,366.9 L251.8,366.6 L253.6,366.2 L255.5,365.9 L257.3,365.5 L259.2,365.2 L261.0,364.9 L262.9,364.6 L264.7,364.4 L266.6,364.1 L268.4,364.0 L270.3,363.8 L272.1,363.7 L274.0,363.7 L275.8,363.8 L277.7,363.9 L279.5,364.1 L281.4,364.4 L283.2,364.7 L285.1,365.1 L286.9,365.6 L288.8,366.1 L290.6,366.6 L292.5,367.1 L294.3,367.7 L296.2,368.3 L298.1,368.9 L299.9,369.5 L301.8,370.0 L303.6,370.6 L305.5,371.1 L307.3,371.6 L309.2,372.1 L311.0,372.5 L312.9,372.8 L314.7,373.1 L316.6,373.4 L318.4,373.5 L320.3,373.6 L322.1,373.5 L324.0,373.5 L325.8,373.4 L327.7,373.2 L329.5,373.0 L331.4,372.8 L333.2,372.5 L335.1,372.3 L336.9,372.0 L338.8,371.6 L340.6,371.3 L342.5,371.0 L344.3,370.6 L346.2,370.2 L348.0,369.9 L349.9,369.5 L351.7,369.2 L353.6,368.9 L355.4,368.5 L357.3,368.3 L359.1,368.0 L361.0,367.7 L362.8,367.5 L364.7,367.4 L366.5,367.2 L368.4,367.1 L370.2,366.9 L372.1,366.7 L373.9,366.6 L375.8,366.4 L377.6,366.3 L379.5,366.2 L381.3,366.0 L383.2,365.9 L385.0,365.8 L386.9,365.7 L388.7,365.5 L390.6,365.5 L392.4,365.4 L394.3,365.3 L396.1,365.2 L398.0,365.2 L399.8,365.2 L401.7,365.2 L403.5,365.2 L405.4,365.2 L407.2,365.2 L409.1,365.2 L410.9,365.2 L412.8,365.2 L414.6,365.2 L416.5,365.3 L418.3,365.4 L420.2,365.5 L422.0,365.5 L423.9,365.7 L425.7,365.8 L427.6,365.9 L429.4,366.0 L431.3,366.2 L433.1,366.3 L435.0,366.4 L436.8,366.6 L438.7,366.7 L440.5,366.9 L442.4,367.1 L444.2,367.2 L446.1,367.4 L447.9,367.5 L449.8,367.7 L451.6,368.0 L453.5,368.3 L455.3,368.5 L457.2,368.9 L459.0,369.2 L460.9,369.5 L462.7,369.9 L464.6,370.2 L466.4,370.6 L468.3,371.0 L470.1,371.3 L472.0,371.6 L473.8,372.0 L475.7,372.3 L477.5,372.5 L479.4,372.8 L481.2,373.0 L483.1,373.2 L484.9,373.4 L486.8,373.5 L488.6,373.5 L490.5,373.6 L492.3,373.5 L494.2,373.4 L496.0,373.1 L497.9,372.8 L499.7,372.5 L501.6,372.1 L503.4,371.6 L505.3,371.1 L507.1,370.6 L509.0,370.0 L510.8,369.5 L512.7,368.9 L514.5,368.3 L516.4,367.7 L518.3,367.1 L520.1,366.6 L522.0,366.1 L523.8,365.6 L525.7,365.1 L527.5,364.7 L529.4,364.4 L531.2,364.1 L533.1,363.9 L534.9,363.8 L536.8,363.7 L538.6,363.7 L540.5,363.8 L542.3,364.0 L544.2,364.1 L546.0,364.4 L547.9,364.6 L549.7,364.9 L551.6,365.2 L553.4,365.5 L555.3,365.9 L557.1,366.2 L559.0,366.6 L560.8,366.9 L562.7,367.3 L564.5,367.6 L566.4,367.9 L568.2,368.2 L570.1,368.5 L571.9,368.7 L573.8,368.9 L575.6,369.0 L577.5,369.1 L579.3,369.2 L581.2,369.2 L583.0,369.0 L584.9,368.9 L586.7,368.6 L588.6,368.3 L590.4,367.9 L592.3,367.4 L594.1,367.0 L596.0,366.5 L597.8,365.9 L599.7,365.4 L601.5,364.8 L603.4,364.2 L605.2,363.6 L607.1,363.1 L608.9,362.5 L610.8,362.0 L612.6,361.5 L614.5,361.0 L616.3,360.6 L618.2,360.2 L620.0,359.9 L621.9,359.6 L623.7,359.4 L625.6,359.4 L627.4,359.4 L629.3,359.5 L631.1,359.9 L633.0,360.5 L634.8,361.2 L636.7,362.0 L638.5,362.9 L640.4,363.8 L642.2,364.9 L644.1,365.9 L645.9,366.9 L647.8,368.0 L649.6,368.9 L651.5,369.8 L653.3,370.6 L655.2,371.3 L657.0,371.9 L658.9,372.3 L660.7,372.5 L662.6,372.4 L664.4,372.3 L666.3,371.9 L668.1,371.5 L670.0,370.9 L671.8,370.3 L673.7,369.6 L675.5,368.8 L677.4,368.1 L679.2,367.3 L681.1,366.5 L682.9,365.8 L684.8,365.1 L686.6,364.5 L688.5,364.1 L690.3,363.7 L692.2,363.4 L694.0,363.3 L695.9,363.4 L697.7,363.7 L699.6,364.0 L701.4,364.5 L703.3,365.1 L705.1,365.7 L707.0,366.3 L708.8,367.0 L710.7,367.6 L712.5,368.2 L714.4,368.8 L716.2,369.2 L718.1,369.6 L719.9,369.8 L721.8,369.9 L723.6,369.8 L725.5,369.6 L727.3,369.2 L729.2,368.7 L731.0,368.1 L732.9,367.4 L734.7,366.6 L736.6,365.7 L738.4,364.8 L740.3,364.2 L742.2,364.7 L744.0,365.2 L745.9,365.7 L747.7,366.2 L749.6,366.7 L751.4,367.2 L753.3,367.6 L755.1,368.1 L757.0,368.6 L758.8,369.1 L760.7,369.6 L762.5,370.2 L764.4,370.7 L766.2,371.2 L768.1,371.7 L769.9,372.0 L771.8,372.3 L773.6,372.4 L775.5,372.5 L777.3,372.3 L779.2,371.9 L781.0,371.4 L782.9,370.7 L784.7,370.0 L786.6,369.1 L788.4,368.3 L790.3,367.4 L792.1,366.5 L794.0,365.7 L795.8,364.9 L797.7,364.2 L799.5,363.7 L801.4,363.3 L803.2,363.0 L805.1,363.0 L806.9,363.5 L808.8,364.3 L810.6,365.5 L812.5,367.0 L814.3,368.6 L816.2,370.3 L818.0,372.0 L819.9,373.6 L821.7,375.0 L823.6,376.2 L825.4,377.1 L827.3,377.5 L829.1,377.5 L831.0,377.2 L832.8,376.6 L834.7,375.8 L836.5,374.8 L838.4,373.7 L840.2,372.4 L842.1,371.2 L843.9,369.9 L845.8,368.6 L847.6,367.4 L849.5,366.3 L851.3,365.3 L853.2,364.6 L855.0,364.0 L856.9,363.7 L858.7,363.8 L860.6,364.3 L862.4,365.2 L864.3,366.4 L866.1,367.9 L868.0,369.5 L869.8,371.2 L871.7,373.0 L873.5,374.6 L875.4,376.2 L877.2,377.6 L879.1,378.7 L880.9,379.4 L882.8,379.8 L884.6,379.6 L886.5,379.1 L888.3,378.2 L890.2,377.0 L892.0,375.5 L893.9,373.9 L895.7,372.1 L897.6,370.2 L899.4,368.3 L901.3,366.3 L903.1,364.5 L905.0,362.7 L906.8,361.1 L908.7,359.8 L910.5,358.7 L912.4,357.9 L914.2,357.5 L916.1,357.8 L917.9,359.3 L919.8,361.9 L921.6,365.4 L923.5,369.4 L925.3,373.6 L927.2,377.8 L929.0,381.7 L930.9,385.1 L932.7,387.5 L934.6,388.8 L936.4,388.7 L938.3,387.7 L940.1,385.9 L942.0,383.4 L943.8,380.3 L945.7,376.7 L947.5,372.8 L949.4,368.6 L951.2,364.3 L953.1,360.0 L954.9,355.8 L956.8,351.9 L958.6,348.2 L960.5,345.0 L962.4,342.4 L964.2,340.4 L966.1,339.2 L967.9,338.9 L969.8,339.4 L971.6,340.6 L973.5,342.2 L975.3,344.3 L977.2,346.7 L979.0,349.4 L980.9,352.1 L982.7,354.9 L984.6,357.6 L986.4,360.0 L988.3,362.2 L990.1,364.0 L992.0,365.2 L993.8,365.8 L995.7,365.7 L997.5,364.9 L999.4,363.3 L1001.2,361.1 L1003.1,358.6 L1004.9,355.7 L1006.8,351.1 L1008.6,343.8 L1010.5,334.6 L1012.3,324.5 L1014.2,314.2 L1016.0,304.6 L1017.9,295.7 L1019.7,286.6 L1021.6,277.5 L1023.4,268.1 L1025.3,258.4 L1027.1,248.2 L1029.0,237.6 L1030.8,226.4 L1032.7,214.4 L1034.5,201.6 L1036.4,187.1 L1038.2,171.9 L1040.1,157.6 L1041.9,144.8 L1043.8,132.8 L1045.6,121.3 L1047.5,110.0 L1049.3,99.6 L1051.2,91.4 L1053.0,83.8 L1054.9,74.4 L1056.7,63.9 L1058.6,54.4 L1060.4,47.5 L1062.3,41.3 L1064.1,36.5 L1066.0,33.9 L1067.8,32.5 L1069.7,31.4 L1071.5,31.0 L1073.4,31.4 L1075.2,32.5 L1077.1,33.9 L1078.9,36.5 L1080.8,41.3 L1082.6,47.5 L1084.5,54.4 L1086.3,63.9 L1088.2,74.4 L1090.0,83.8 L1091.9,91.4 L1093.7,99.6 L1095.6,110.0 L1097.4,121.3 L1099.3,132.8 L1101.1,144.8 L1103.0,157.6 L1104.8,171.9 L1106.7,187.1 L1108.5,201.6 L1110.4,214.4 L1112.2,226.4 L1114.1,237.6 L1115.9,248.2 L1117.8,258.4 L1119.6,268.1 L1121.5,277.5 L1123.3,286.6 L1125.2,295.7 L1127.0,304.6 L1128.9,314.2 L1130.7,324.5 L1132.6,334.6 L1134.4,343.8 L1136.3,351.1 L1138.1,355.7 L1140.0,358.6 L1141.8,361.1 L1143.7,363.3 L1145.5,364.9 L1147.4,365.7 L1149.2,365.8 L1151.1,365.2 L1152.9,364.0 L1154.8,362.2 L1156.6,360.0 L1158.5,357.6 L1160.3,354.9 L1162.2,352.1 L1164.0,349.4 L1165.9,346.7 L1167.7,344.3 L1169.6,342.2 L1171.4,340.6 L1173.3,339.4 L1175.1,338.9 L1177.0,339.2 L1178.8,340.4 L1180.7,342.4 L1182.5,345.0 L1184.4,348.2 L1186.3,351.9 L1188.1,355.8 L1190.0,360.0 L1191.8,364.3 L1193.7,368.6 L1195.5,372.8 L1197.4,376.7 L1199.2,380.3 L1201.1,383.4 L1202.9,385.9 L1204.8,387.7 L1206.6,388.7 L1208.5,388.8 L1210.3,387.5 L1212.2,385.1 L1214.0,381.7 L1215.9,377.8 L1217.7,373.6 L1219.6,369.4 L1221.4,365.4 L1223.3,361.9 L1225.1,359.3 L1227.0,357.8 L1228.8,357.5 L1230.7,357.9 L1232.5,358.7 L1234.4,359.8 L1236.2,361.1 L1238.1,362.7 L1239.9,364.5 L1241.8,366.3 L1243.6,368.3 L1245.5,370.2 L1247.3,372.1 L1249.2,373.9 L1251.0,375.5 L1252.9,377.0 L1254.7,378.2 L1256.6,379.1 L1258.4,379.6 L1260.3,379.8 L1262.1,379.4 L1264.0,378.7 L1265.8,377.6 L1267.7,376.2 L1269.5,374.6 L1271.4,373.0 L1273.2,371.2 L1275.1,369.5 L1276.9,367.9 L1278.8,366.4 L1280.6,365.2 L1282.5,364.3 L1284.3,363.8 L1286.2,363.7 L1288.0,364.0 L1289.9,364.6 L1291.7,365.3 L1293.6,366.3 L1295.4,367.4 L1297.3,368.6 L1299.1,369.9 L1301.0,371.2 L1302.8,372.4 L1304.7,373.7 L1306.5,374.8 L1308.4,375.8 L1310.2,376.6 L1312.1,377.2 L1313.9,377.5 L1315.8,377.5 L1317.6,377.1 L1319.5,376.2 L1321.3,375.0 L1323.2,373.6 L1325.0,372.0 L1326.9,370.3 L1328.7,368.6 L1330.6,367.0 L1332.4,365.5 L1334.3,364.3 L1336.1,363.5 L1338.0,363.0 L1339.8,363.0 L1341.7,363.3 L1343.5,363.7 L1345.4,364.2 L1347.2,364.9 L1349.1,365.7 L1350.9,366.5 L1352.8,367.4 L1354.6,368.3 L1356.5,369.1 L1358.3,370.0 L1360.2,370.7 L1362.0,371.4 L1363.9,371.9 L1365.7,372.3 L1367.6,372.5 L1369.4,372.4 L1371.3,372.3 L1373.1,372.0 L1375.0,371.7 L1376.8,371.2 L1378.7,370.7 L1380.5,370.2 L1382.4,369.6 L1384.2,369.1 L1386.1,368.6 L1387.9,368.1 L1389.8,367.6 L1391.6,367.2 L1393.5,366.7 L1395.3,366.2 L1397.2,365.7 L1399.0,365.2 L1400.9,364.7 L1402.7,364.2 L1404.6,363.7" fill="none" stroke="#ffa500" style="stroke-width:1.4;stroke-dasharray:11.5 4 1.6 4"/>
<g fill="none" stroke-width="1.25">
<rect x="65.5" y="46.1" width="13.6" height="13.6" stroke="#ff0000"/><circle cx="72.3" cy="52.9" r="0.6" fill="#ff0000" stroke="none" opacity="0.5"/>
<rect x="109.9" y="46.5" width="13.6" height="13.6" stroke="#ff0000"/><circle cx="116.7" cy="53.3" r="0.6" fill="#ff0000" stroke="none" opacity="0.5"/>
<rect x="154.3" y="64.7" width="13.6" height="13.6" stroke="#ff0000"/><circle cx="161.1" cy="71.5" r="0.6" fill="#ff0000" stroke="none" opacity="0.5"/>
<rect x="198.7" y="95.7" width="13.6" height="13.6" stroke="#ff0000"/><circle cx="205.5" cy="102.5" r="0.6" fill="#ff0000" stroke="none" opacity="0.5"/>
<rect x="243.1" y="133.3" width="13.6" height="13.6" stroke="#ff0000"/><circle cx="249.9" cy="140.1" r="0.6" fill="#ff0000" stroke="none" opacity="0.5"/>
<rect x="287.5" y="169.0" width="13.6" height="13.6" stroke="#ff0000"/><circle cx="294.3" cy="175.8" r="0.6" fill="#ff0000" stroke="none" opacity="0.5"/>
<rect x="332.0" y="197.1" width="13.6" height="13.6" stroke="#ff0000"/><circle cx="338.8" cy="203.9" r="0.6" fill="#ff0000" stroke="none" opacity="0.5"/>
<rect x="376.4" y="212.1" width="13.6" height="13.6" stroke="#ff0000"/><circle cx="383.2" cy="218.9" r="0.6" fill="#ff0000" stroke="none" opacity="0.5"/>
<rect x="420.8" y="212.1" width="13.6" height="13.6" stroke="#ff0000"/><circle cx="427.6" cy="218.9" r="0.6" fill="#ff0000" stroke="none" opacity="0.5"/>
<rect x="465.2" y="197.1" width="13.6" height="13.6" stroke="#ff0000"/><circle cx="472.0" cy="203.9" r="0.6" fill="#ff0000" stroke="none" opacity="0.5"/>
<rect x="509.6" y="169.0" width="13.6" height="13.6" stroke="#ff0000"/><circle cx="516.4" cy="175.8" r="0.6" fill="#ff0000" stroke="none" opacity="0.5"/>
<rect x="554.0" y="133.3" width="13.6" height="13.6" stroke="#ff0000"/><circle cx="560.8" cy="140.1" r="0.6" fill="#ff0000" stroke="none" opacity="0.5"/>
<rect x="598.4" y="95.7" width="13.6" height="13.6" stroke="#ff0000"/><circle cx="605.2" cy="102.5" r="0.6" fill="#ff0000" stroke="none" opacity="0.5"/>
<rect x="642.8" y="64.7" width="13.6" height="13.6" stroke="#ff0000"/><circle cx="649.6" cy="71.5" r="0.6" fill="#ff0000" stroke="none" opacity="0.5"/>
<rect x="687.2" y="46.5" width="13.6" height="13.6" stroke="#ff0000"/><circle cx="694.0" cy="53.3" r="0.6" fill="#ff0000" stroke="none" opacity="0.5"/>
<rect x="731.6" y="46.1" width="13.6" height="13.6" stroke="#ff0000"/><circle cx="738.4" cy="52.9" r="0.6" fill="#ff0000" stroke="none" opacity="0.5"/>
<rect x="776.1" y="63.2" width="13.6" height="13.6" stroke="#ff0000"/><circle cx="782.9" cy="70.0" r="0.6" fill="#ff0000" stroke="none" opacity="0.5"/>
<rect x="820.5" y="91.3" width="13.6" height="13.6" stroke="#ff0000"/><circle cx="827.3" cy="98.1" r="0.6" fill="#ff0000" stroke="none" opacity="0.5"/>
<rect x="864.9" y="114.3" width="13.6" height="13.6" stroke="#ff0000"/><circle cx="871.7" cy="121.1" r="0.6" fill="#ff0000" stroke="none" opacity="0.5"/>
<rect x="909.3" y="114.3" width="13.6" height="13.6" stroke="#ff0000"/><circle cx="916.1" cy="121.1" r="0.6" fill="#ff0000" stroke="none" opacity="0.5"/>
<rect x="953.7" y="85.9" width="13.6" height="13.6" stroke="#ff0000"/><circle cx="960.5" cy="92.7" r="0.6" fill="#ff0000" stroke="none" opacity="0.5"/>
<rect x="998.1" y="50.8" width="13.6" height="13.6" stroke="#ff0000"/><circle cx="1004.9" cy="57.6" r="0.6" fill="#ff0000" stroke="none" opacity="0.5"/>
<rect x="1042.5" y="26.8" width="13.6" height="13.6" stroke="#ff0000"/><circle cx="1049.3" cy="33.6" r="0.6" fill="#ff0000" stroke="none" opacity="0.5"/>
<rect x="1086.9" y="26.8" width="13.6" height="13.6" stroke="#ff0000"/><circle cx="1093.7" cy="33.6" r="0.6" fill="#ff0000" stroke="none" opacity="0.5"/>
<rect x="1131.3" y="50.8" width="13.6" height="13.6" stroke="#ff0000"/><circle cx="1138.1" cy="57.6" r="0.6" fill="#ff0000" stroke="none" opacity="0.5"/>
<rect x="1175.8" y="85.9" width="13.6" height="13.6" stroke="#ff0000"/><circle cx="1182.5" cy="92.7" r="0.6" fill="#ff0000" stroke="none" opacity="0.5"/>
<rect x="1220.2" y="114.3" width="13.6" height="13.6" stroke="#ff0000"/><circle cx="1227.0" cy="121.1" r="0.6" fill="#ff0000" stroke="none" opacity="0.5"/>
<rect x="1264.6" y="114.3" width="13.6" height="13.6" stroke="#ff0000"/><circle cx="1271.4" cy="121.1" r="0.6" fill="#ff0000" stroke="none" opacity="0.5"/>
<rect x="1309.0" y="91.3" width="13.6" height="13.6" stroke="#ff0000"/><circle cx="1315.8" cy="98.1" r="0.6" fill="#ff0000" stroke="none" opacity="0.5"/>
<rect x="1353.4" y="63.2" width="13.6" height="13.6" stroke="#ff0000"/><circle cx="1360.2" cy="70.0" r="0.6" fill="#ff0000" stroke="none" opacity="0.5"/>
<rect x="1397.8" y="46.1" width="13.6" height="13.6" stroke="#ff0000"/><circle cx="1404.6" cy="52.9" r="0.6" fill="#ff0000" stroke="none" opacity="0.5"/>
<circle cx="72.3" cy="340.0" r="6.3" stroke="#006600"/><circle cx="72.3" cy="340.0" r="0.6" fill="#006600" stroke="none" opacity="0.5"/>
<circle cx="116.7" cy="288.9" r="6.3" stroke="#006600"/><circle cx="116.7" cy="288.9" r="0.6" fill="#006600" stroke="none" opacity="0.5"/>
<circle cx="161.1" cy="255.7" r="6.3" stroke="#006600"/><circle cx="161.1" cy="255.7" r="0.6" fill="#006600" stroke="none" opacity="0.5"/>
<circle cx="205.5" cy="252.8" r="6.3" stroke="#006600"/><circle cx="205.5" cy="252.8" r="0.6" fill="#006600" stroke="none" opacity="0.5"/>
<circle cx="249.9" cy="271.8" r="6.3" stroke="#006600"/><circle cx="249.9" cy="271.8" r="0.6" fill="#006600" stroke="none" opacity="0.5"/>
<circle cx="294.3" cy="293.7" r="6.3" stroke="#006600"/><circle cx="294.3" cy="293.7" r="0.6" fill="#006600" stroke="none" opacity="0.5"/>
<circle cx="338.8" cy="303.9" r="6.3" stroke="#006600"/><circle cx="338.8" cy="303.9" r="0.6" fill="#006600" stroke="none" opacity="0.5"/>
<circle cx="383.2" cy="304.6" r="6.3" stroke="#006600"/><circle cx="383.2" cy="304.6" r="0.6" fill="#006600" stroke="none" opacity="0.5"/>
<circle cx="427.6" cy="304.6" r="6.3" stroke="#006600"/><circle cx="427.6" cy="304.6" r="0.6" fill="#006600" stroke="none" opacity="0.5"/>
<circle cx="472.0" cy="303.9" r="6.3" stroke="#006600"/><circle cx="472.0" cy="303.9" r="0.6" fill="#006600" stroke="none" opacity="0.5"/>
<circle cx="516.4" cy="293.7" r="6.3" stroke="#006600"/><circle cx="516.4" cy="293.7" r="0.6" fill="#006600" stroke="none" opacity="0.5"/>
<circle cx="560.8" cy="271.8" r="6.3" stroke="#006600"/><circle cx="560.8" cy="271.8" r="0.6" fill="#006600" stroke="none" opacity="0.5"/>
<circle cx="605.2" cy="252.8" r="6.3" stroke="#006600"/><circle cx="605.2" cy="252.8" r="0.6" fill="#006600" stroke="none" opacity="0.5"/>
<circle cx="649.6" cy="255.7" r="6.3" stroke="#006600"/><circle cx="649.6" cy="255.7" r="0.6" fill="#006600" stroke="none" opacity="0.5"/>
<circle cx="694.0" cy="288.9" r="6.3" stroke="#006600"/><circle cx="694.0" cy="288.9" r="0.6" fill="#006600" stroke="none" opacity="0.5"/>
<circle cx="738.4" cy="340.0" r="6.3" stroke="#006600"/><circle cx="738.4" cy="340.0" r="0.6" fill="#006600" stroke="none" opacity="0.5"/>
<circle cx="782.9" cy="310.8" r="6.3" stroke="#006600"/><circle cx="782.9" cy="310.8" r="0.6" fill="#006600" stroke="none" opacity="0.5"/>
<circle cx="827.3" cy="231.7" r="6.3" stroke="#006600"/><circle cx="827.3" cy="231.7" r="0.6" fill="#006600" stroke="none" opacity="0.5"/>
<circle cx="871.7" cy="179.5" r="6.3" stroke="#006600"/><circle cx="871.7" cy="179.5" r="0.6" fill="#006600" stroke="none" opacity="0.5"/>
<circle cx="916.1" cy="155.8" r="6.3" stroke="#006600"/><circle cx="916.1" cy="155.8" r="0.6" fill="#006600" stroke="none" opacity="0.5"/>
<circle cx="960.5" cy="132.4" r="6.3" stroke="#006600"/><circle cx="960.5" cy="132.4" r="0.6" fill="#006600" stroke="none" opacity="0.5"/>
<circle cx="1004.9" cy="82.8" r="6.3" stroke="#006600"/><circle cx="1004.9" cy="82.8" r="0.6" fill="#006600" stroke="none" opacity="0.5"/>
<circle cx="1049.3" cy="36.5" r="6.3" stroke="#006600"/><circle cx="1049.3" cy="36.5" r="0.6" fill="#006600" stroke="none" opacity="0.5"/>
<circle cx="1093.7" cy="36.5" r="6.3" stroke="#006600"/><circle cx="1093.7" cy="36.5" r="0.6" fill="#006600" stroke="none" opacity="0.5"/>
<circle cx="1138.1" cy="82.8" r="6.3" stroke="#006600"/><circle cx="1138.1" cy="82.8" r="0.6" fill="#006600" stroke="none" opacity="0.5"/>
<circle cx="1182.5" cy="132.4" r="6.3" stroke="#006600"/><circle cx="1182.5" cy="132.4" r="0.6" fill="#006600" stroke="none" opacity="0.5"/>
<circle cx="1227.0" cy="155.8" r="6.3" stroke="#006600"/><circle cx="1227.0" cy="155.8" r="0.6" fill="#006600" stroke="none" opacity="0.5"/>
<circle cx="1271.4" cy="179.5" r="6.3" stroke="#006600"/><circle cx="1271.4" cy="179.5" r="0.6" fill="#006600" stroke="none" opacity="0.5"/>
<circle cx="1315.8" cy="231.7" r="6.3" stroke="#006600"/><circle cx="1315.8" cy="231.7" r="0.6" fill="#006600" stroke="none" opacity="0.5"/>
<circle cx="1360.2" cy="310.8" r="6.3" stroke="#006600"/><circle cx="1360.2" cy="310.8" r="0.6" fill="#006600" stroke="none" opacity="0.5"/>
<circle cx="1404.6" cy="340.0" r="6.3" stroke="#006600"/><circle cx="1404.6" cy="340.0" r="0.6" fill="#006600" stroke="none" opacity="0.5"/>
<path d="M72.3,321.1L78.5,331.1L66.1,331.1Z" stroke="#0000ff"/><circle cx="72.3" cy="326.1" r="0.6" fill="#0000ff" stroke="none" opacity="0.5"/>
<path d="M116.7,342.3L122.9,352.3L110.5,352.3Z" stroke="#0000ff"/><circle cx="116.7" cy="347.3" r="0.6" fill="#0000ff" stroke="none" opacity="0.5"/>
<path d="M161.1,333.9L167.3,343.9L154.9,343.9Z" stroke="#0000ff"/><circle cx="161.1" cy="338.9" r="0.6" fill="#0000ff" stroke="none" opacity="0.5"/>
<path d="M205.5,327.0L211.7,337.0L199.3,337.0Z" stroke="#0000ff"/><circle cx="205.5" cy="332.0" r="0.6" fill="#0000ff" stroke="none" opacity="0.5"/>
<path d="M249.9,338.6L256.1,348.6L243.7,348.6Z" stroke="#0000ff"/><circle cx="249.9" cy="343.6" r="0.6" fill="#0000ff" stroke="none" opacity="0.5"/>
<path d="M294.3,336.8L300.5,346.8L288.1,346.8Z" stroke="#0000ff"/><circle cx="294.3" cy="341.8" r="0.6" fill="#0000ff" stroke="none" opacity="0.5"/>
<path d="M338.8,332.4L345.0,342.4L332.6,342.4Z" stroke="#0000ff"/><circle cx="338.8" cy="337.4" r="0.6" fill="#0000ff" stroke="none" opacity="0.5"/>
<path d="M383.2,333.2L389.4,343.2L377.0,343.2Z" stroke="#0000ff"/><circle cx="383.2" cy="338.2" r="0.6" fill="#0000ff" stroke="none" opacity="0.5"/>
<path d="M427.6,333.2L433.8,343.2L421.4,343.2Z" stroke="#0000ff"/><circle cx="427.6" cy="338.2" r="0.6" fill="#0000ff" stroke="none" opacity="0.5"/>
<path d="M472.0,332.4L478.2,342.4L465.8,342.4Z" stroke="#0000ff"/><circle cx="472.0" cy="337.4" r="0.6" fill="#0000ff" stroke="none" opacity="0.5"/>
<path d="M516.4,336.8L522.6,346.8L510.2,346.8Z" stroke="#0000ff"/><circle cx="516.4" cy="341.8" r="0.6" fill="#0000ff" stroke="none" opacity="0.5"/>
<path d="M560.8,338.6L567.0,348.6L554.6,348.6Z" stroke="#0000ff"/><circle cx="560.8" cy="343.6" r="0.6" fill="#0000ff" stroke="none" opacity="0.5"/>
<path d="M605.2,327.0L611.4,337.0L599.0,337.0Z" stroke="#0000ff"/><circle cx="605.2" cy="332.0" r="0.6" fill="#0000ff" stroke="none" opacity="0.5"/>
<path d="M649.6,333.9L655.8,343.9L643.4,343.9Z" stroke="#0000ff"/><circle cx="649.6" cy="338.9" r="0.6" fill="#0000ff" stroke="none" opacity="0.5"/>
<path d="M694.0,342.3L700.2,352.3L687.8,352.3Z" stroke="#0000ff"/><circle cx="694.0" cy="347.3" r="0.6" fill="#0000ff" stroke="none" opacity="0.5"/>
<path d="M738.4,321.1L744.6,331.1L732.2,331.1Z" stroke="#0000ff"/><circle cx="738.4" cy="326.1" r="0.6" fill="#0000ff" stroke="none" opacity="0.5"/>
<path d="M738.4,320.4L744.6,330.4L732.2,330.4Z" stroke="#0000ff"/><circle cx="738.4" cy="325.4" r="0.6" fill="#0000ff" stroke="none" opacity="0.5"/>
<path d="M782.9,345.6L789.1,355.6L776.7,355.6Z" stroke="#0000ff"/><circle cx="782.9" cy="350.6" r="0.6" fill="#0000ff" stroke="none" opacity="0.5"/>
<path d="M827.3,332.8L833.5,342.8L821.1,342.8Z" stroke="#0000ff"/><circle cx="827.3" cy="337.8" r="0.6" fill="#0000ff" stroke="none" opacity="0.5"/>
<path d="M871.7,310.6L877.9,320.6L865.5,320.6Z" stroke="#0000ff"/><circle cx="871.7" cy="315.6" r="0.6" fill="#0000ff" stroke="none" opacity="0.5"/>
<path d="M916.1,383.9L922.3,393.9L909.9,393.9Z" stroke="#0000ff"/><circle cx="916.1" cy="388.9" r="0.6" fill="#0000ff" stroke="none" opacity="0.5"/>
<path d="M960.5,262.4L966.7,272.4L954.3,272.4Z" stroke="#0000ff"/><circle cx="960.5" cy="267.4" r="0.6" fill="#0000ff" stroke="none" opacity="0.5"/>
<path d="M1004.9,153.7L1011.1,163.7L998.7,163.7Z" stroke="#0000ff"/><circle cx="1004.9" cy="158.7" r="0.6" fill="#0000ff" stroke="none" opacity="0.5"/>
<path d="M1049.3,44.2L1055.5,54.2L1043.1,54.2Z" stroke="#0000ff"/><circle cx="1049.3" cy="49.2" r="0.6" fill="#0000ff" stroke="none" opacity="0.5"/>
<path d="M1093.7,44.2L1099.9,54.2L1087.5,54.2Z" stroke="#0000ff"/><circle cx="1093.7" cy="49.2" r="0.6" fill="#0000ff" stroke="none" opacity="0.5"/>
<path d="M1138.1,153.7L1144.3,163.7L1131.9,163.7Z" stroke="#0000ff"/><circle cx="1138.1" cy="158.7" r="0.6" fill="#0000ff" stroke="none" opacity="0.5"/>
<path d="M1182.5,262.4L1188.8,272.4L1176.3,272.4Z" stroke="#0000ff"/><circle cx="1182.5" cy="267.4" r="0.6" fill="#0000ff" stroke="none" opacity="0.5"/>
<path d="M1227.0,383.9L1233.2,393.9L1220.8,393.9Z" stroke="#0000ff"/><circle cx="1227.0" cy="388.9" r="0.6" fill="#0000ff" stroke="none" opacity="0.5"/>
<path d="M1271.4,310.6L1277.6,320.6L1265.2,320.6Z" stroke="#0000ff"/><circle cx="1271.4" cy="315.6" r="0.6" fill="#0000ff" stroke="none" opacity="0.5"/>
<path d="M1315.8,332.8L1322.0,342.8L1309.6,342.8Z" stroke="#0000ff"/><circle cx="1315.8" cy="337.8" r="0.6" fill="#0000ff" stroke="none" opacity="0.5"/>
<path d="M1360.2,345.6L1366.4,355.6L1354.0,355.6Z" stroke="#0000ff"/><circle cx="1360.2" cy="350.6" r="0.6" fill="#0000ff" stroke="none" opacity="0.5"/>
<path d="M1404.6,320.4L1410.8,330.4L1398.4,330.4Z" stroke="#0000ff"/><circle cx="1404.6" cy="325.4" r="0.6" fill="#0000ff" stroke="none" opacity="0.5"/>
<path d="M72.3,358.2L79.3,365.2L72.3,372.2L65.3,365.2Z" stroke="#ffa500"/><circle cx="72.3" cy="365.2" r="0.6" fill="#ffa500" stroke="none" opacity="0.5"/>
<path d="M116.7,360.7L123.7,367.7L116.7,374.7L109.7,367.7Z" stroke="#ffa500"/><circle cx="116.7" cy="367.7" r="0.6" fill="#ffa500" stroke="none" opacity="0.5"/>
<path d="M161.1,362.9L168.1,369.9L161.1,376.9L154.1,369.9Z" stroke="#ffa500"/><circle cx="161.1" cy="369.9" r="0.6" fill="#ffa500" stroke="none" opacity="0.5"/>
<path d="M205.5,359.3L212.5,366.3L205.5,373.3L198.5,366.3Z" stroke="#ffa500"/><circle cx="205.5" cy="366.3" r="0.6" fill="#ffa500" stroke="none" opacity="0.5"/>
<path d="M249.9,361.1L256.9,368.1L249.9,375.1L242.9,368.1Z" stroke="#ffa500"/><circle cx="249.9" cy="368.1" r="0.6" fill="#ffa500" stroke="none" opacity="0.5"/>
<path d="M294.3,361.1L301.3,368.1L294.3,375.1L287.3,368.1Z" stroke="#ffa500"/><circle cx="294.3" cy="368.1" r="0.6" fill="#ffa500" stroke="none" opacity="0.5"/>
<path d="M338.8,360.7L345.8,367.7L338.8,374.7L331.8,367.7Z" stroke="#ffa500"/><circle cx="338.8" cy="367.7" r="0.6" fill="#ffa500" stroke="none" opacity="0.5"/>
<path d="M383.2,360.7L390.2,367.7L383.2,374.7L376.2,367.7Z" stroke="#ffa500"/><circle cx="383.2" cy="367.7" r="0.6" fill="#ffa500" stroke="none" opacity="0.5"/>
<path d="M427.6,360.7L434.6,367.7L427.6,374.7L420.6,367.7Z" stroke="#ffa500"/><circle cx="427.6" cy="367.7" r="0.6" fill="#ffa500" stroke="none" opacity="0.5"/>
<path d="M472.0,360.7L479.0,367.7L472.0,374.7L465.0,367.7Z" stroke="#ffa500"/><circle cx="472.0" cy="367.7" r="0.6" fill="#ffa500" stroke="none" opacity="0.5"/>
<path d="M516.4,361.1L523.4,368.1L516.4,375.1L509.4,368.1Z" stroke="#ffa500"/><circle cx="516.4" cy="368.1" r="0.6" fill="#ffa500" stroke="none" opacity="0.5"/>
<path d="M560.8,361.1L567.8,368.1L560.8,375.1L553.8,368.1Z" stroke="#ffa500"/><circle cx="560.8" cy="368.1" r="0.6" fill="#ffa500" stroke="none" opacity="0.5"/>
<path d="M605.2,359.3L612.2,366.3L605.2,373.3L598.2,366.3Z" stroke="#ffa500"/><circle cx="605.2" cy="366.3" r="0.6" fill="#ffa500" stroke="none" opacity="0.5"/>
<path d="M649.6,362.9L656.6,369.9L649.6,376.9L642.6,369.9Z" stroke="#ffa500"/><circle cx="649.6" cy="369.9" r="0.6" fill="#ffa500" stroke="none" opacity="0.5"/>
<path d="M694.0,360.7L701.0,367.7L694.0,374.7L687.0,367.7Z" stroke="#ffa500"/><circle cx="694.0" cy="367.7" r="0.6" fill="#ffa500" stroke="none" opacity="0.5"/>
<path d="M738.4,358.2L745.4,365.2L738.4,372.2L731.4,365.2Z" stroke="#ffa500"/><circle cx="738.4" cy="365.2" r="0.6" fill="#ffa500" stroke="none" opacity="0.5"/>
<path d="M738.4,357.8L745.4,364.8L738.4,371.8L731.4,364.8Z" stroke="#ffa500"/><circle cx="738.4" cy="364.8" r="0.6" fill="#ffa500" stroke="none" opacity="0.5"/>
<path d="M782.9,361.8L789.9,368.8L782.9,375.8L775.9,368.8Z" stroke="#ffa500"/><circle cx="782.9" cy="368.8" r="0.6" fill="#ffa500" stroke="none" opacity="0.5"/>
<path d="M827.3,369.5L834.3,376.5L827.3,383.5L820.3,376.5Z" stroke="#ffa500"/><circle cx="827.3" cy="376.5" r="0.6" fill="#ffa500" stroke="none" opacity="0.5"/>
<path d="M871.7,364.4L878.7,371.4L871.7,378.4L864.7,371.4Z" stroke="#ffa500"/><circle cx="871.7" cy="371.4" r="0.6" fill="#ffa500" stroke="none" opacity="0.5"/>
<path d="M916.1,349.4L923.1,356.4L916.1,363.4L909.1,356.4Z" stroke="#ffa500"/><circle cx="916.1" cy="356.4" r="0.6" fill="#ffa500" stroke="none" opacity="0.5"/>
<path d="M960.5,338.1L967.5,345.1L960.5,352.1L953.5,345.1Z" stroke="#ffa500"/><circle cx="960.5" cy="345.1" r="0.6" fill="#ffa500" stroke="none" opacity="0.5"/>
<path d="M1004.9,348.3L1011.9,355.3L1004.9,362.3L997.9,355.3Z" stroke="#ffa500"/><circle cx="1004.9" cy="355.3" r="0.6" fill="#ffa500" stroke="none" opacity="0.5"/>
<path d="M1049.3,92.2L1056.3,99.2L1049.3,106.2L1042.3,99.2Z" stroke="#ffa500"/><circle cx="1049.3" cy="99.2" r="0.6" fill="#ffa500" stroke="none" opacity="0.5"/>
<path d="M1093.7,92.2L1100.7,99.2L1093.7,106.2L1086.7,99.2Z" stroke="#ffa500"/><circle cx="1093.7" cy="99.2" r="0.6" fill="#ffa500" stroke="none" opacity="0.5"/>
<path d="M1138.1,348.3L1145.1,355.3L1138.1,362.3L1131.1,355.3Z" stroke="#ffa500"/><circle cx="1138.1" cy="355.3" r="0.6" fill="#ffa500" stroke="none" opacity="0.5"/>
<path d="M1182.5,338.1L1189.5,345.1L1182.5,352.1L1175.5,345.1Z" stroke="#ffa500"/><circle cx="1182.5" cy="345.1" r="0.6" fill="#ffa500" stroke="none" opacity="0.5"/>
<path d="M1227.0,349.4L1234.0,356.4L1227.0,363.4L1220.0,356.4Z" stroke="#ffa500"/><circle cx="1227.0" cy="356.4" r="0.6" fill="#ffa500" stroke="none" opacity="0.5"/>
<path d="M1271.4,364.4L1278.4,371.4L1271.4,378.4L1264.4,371.4Z" stroke="#ffa500"/><circle cx="1271.4" cy="371.4" r="0.6" fill="#ffa500" stroke="none" opacity="0.5"/>
<path d="M1315.8,369.5L1322.8,376.5L1315.8,383.5L1308.8,376.5Z" stroke="#ffa500"/><circle cx="1315.8" cy="376.5" r="0.6" fill="#ffa500" stroke="none" opacity="0.5"/>
<path d="M1360.2,361.8L1367.2,368.8L1360.2,375.8L1353.2,368.8Z" stroke="#ffa500"/><circle cx="1360.2" cy="368.8" r="0.6" fill="#ffa500" stroke="none" opacity="0.5"/>
<path d="M1404.6,357.8L1411.6,364.8L1404.6,371.8L1397.6,364.8Z" stroke="#ffa500"/><circle cx="1404.6" cy="364.8" r="0.6" fill="#ffa500" stroke="none" opacity="0.5"/>
</g>
<path d="M183.3,31.0v12M183.3,432.3v-12M294.3,31.0v12M294.3,432.3v-12M405.4,31.0v12M405.4,432.3v-12M516.4,31.0v12M516.4,432.3v-12M627.4,31.0v12M627.4,432.3v-12M738.4,31.0v12M738.4,432.3v-12M849.5,31.0v12M849.5,432.3v-12M960.5,31.0v12M960.5,432.3v-12M1071.5,31.0v12M1071.5,432.3v-12M1182.5,31.0v12M1182.5,432.3v-12M1293.6,31.0v12M1293.6,432.3v-12M72.3,395.8h13M1404.6,395.8h-13M72.3,322.9h13M1404.6,322.9h-13M72.3,249.9h13M1404.6,249.9h-13M72.3,176.9h13M1404.6,176.9h-13M72.3,104.0h13M1404.6,104.0h-13" class="tick"/>
<rect x="72.3" y="31.0" width="1332.3" height="401.3" class="frame"/>
<path d="M178.0,405.6H261.3" fill="none" stroke="#ff0000" style="stroke-width:1.3"/>
<path d="M330.9,405.6H414.2" fill="none" stroke="#006600" style="stroke-width:1.4;stroke-dasharray:4 6.3"/>
<path d="M483.9,405.6H567.2" fill="none" stroke="#0000ff" style="stroke-width:1.7;stroke-dasharray:1.9 3.3"/>
<path d="M636.8,405.6H720.1" fill="none" stroke="#ffa500" style="stroke-width:1.4;stroke-dasharray:11.5 4 1.6 4"/>
<g fill="none" stroke-width="1.4"><rect x="825.1" y="398.8" width="13.6" height="13.6" stroke="#ff0000"/><circle cx="831.9" cy="405.6" r="0.6" fill="#ff0000" stroke="none" opacity="0.5"/></g>
<g fill="none" stroke-width="1.4"><circle cx="984.9" cy="405.6" r="6.3" stroke="#006600"/><circle cx="984.9" cy="405.6" r="0.6" fill="#006600" stroke="none" opacity="0.5"/></g>
<g fill="none" stroke-width="1.4"><path d="M1137.8,397.7L1144.0,407.7L1131.6,407.7Z" stroke="#0000ff"/><circle cx="1137.8" cy="405.6" r="0.6" fill="#0000ff" stroke="none" opacity="0.5"/></g>
<g fill="none" stroke-width="1.4"><path d="M1290.7,398.6L1297.7,405.6L1290.7,412.6L1283.7,405.6Z" stroke="#ffa500"/><circle cx="1290.7" cy="405.6" r="0.6" fill="#ffa500" stroke="none" opacity="0.5"/></g>
<path d="M183.3,574.5V975.6M294.3,574.5V975.6M405.4,574.5V975.6M516.4,574.5V975.6M627.4,574.5V975.6M738.4,574.5V975.6M849.5,574.5V975.6M960.5,574.5V975.6M1071.5,574.5V975.6M1182.5,574.5V975.6M1293.6,574.5V975.6M72.3,939.1H1404.6M72.3,866.2H1404.6M72.3,793.3H1404.6M72.3,720.4H1404.6M72.3,647.4H1404.6" class="grid"/>
<rect x="123" y="935.1" width="1227.5" height="28" fill="#fff"/>
<path d="M72.3,574.5 L74.2,574.5 L76.0,574.5 L77.9,574.5 L79.7,574.5 L81.6,574.6 L83.4,574.6 L85.3,574.6 L87.1,574.7 L89.0,574.7 L90.8,574.7 L92.7,574.8 L94.5,574.8 L96.4,574.9 L98.2,574.9 L100.1,575.0 L101.9,575.1 L103.8,575.1 L105.6,575.2 L107.5,575.2 L109.3,575.3 L111.2,575.4 L113.0,575.5 L114.9,575.5 L116.7,575.6 L118.6,575.7 L120.4,575.8 L122.3,575.9 L124.1,576.0 L126.0,576.1 L127.8,576.3 L129.7,576.4 L131.5,576.6 L133.4,576.8 L135.2,577.0 L137.1,577.1 L138.9,577.3 L140.8,577.5 L142.6,577.7 L144.5,577.9 L146.3,578.1 L148.2,578.3 L150.0,578.5 L151.9,578.7 L153.7,578.9 L155.6,579.1 L157.4,579.3 L159.3,579.4 L161.1,579.6 L163.0,579.8 L164.8,579.9 L166.7,580.1 L168.5,580.2 L170.4,580.4 L172.2,580.6 L174.1,580.7 L175.9,580.9 L177.8,581.1 L179.6,581.2 L181.5,581.4 L183.3,581.5 L185.2,581.7 L187.0,581.8 L188.9,582.0 L190.7,582.1 L192.6,582.3 L194.4,582.4 L196.3,582.6 L198.1,582.7 L200.0,582.9 L201.8,583.0 L203.7,583.1 L205.5,583.3 L207.4,583.4 L209.2,583.5 L211.1,583.6 L212.9,583.7 L214.8,583.8 L216.6,584.0 L218.5,584.1 L220.3,584.2 L222.2,584.3 L224.0,584.4 L225.9,584.5 L227.7,584.6 L229.6,584.7 L231.4,584.8 L233.3,584.9 L235.1,585.0 L237.0,585.1 L238.8,585.2 L240.7,585.3 L242.5,585.4 L244.4,585.5 L246.2,585.6 L248.1,585.7 L249.9,585.8 L251.8,585.9 L253.6,586.0 L255.5,586.1 L257.3,586.2 L259.2,586.3 L261.0,586.4 L262.9,586.5 L264.7,586.6 L266.6,586.7 L268.4,586.8 L270.3,586.9 L272.1,587.0 L274.0,587.1 L275.8,587.2 L277.7,587.3 L279.5,587.4 L281.4,587.5 L283.2,587.6 L285.1,587.7 L286.9,587.8 L288.8,587.9 L290.6,588.1 L292.5,588.2 L294.3,588.4 L296.2,588.5 L298.1,588.7 L299.9,588.8 L301.8,589.0 L303.6,589.2 L305.5,589.4 L307.3,589.5 L309.2,589.7 L311.0,589.9 L312.9,590.2 L314.7,590.4 L316.6,590.6 L318.4,590.8 L320.3,591.1 L322.1,591.3 L324.0,591.6 L325.8,591.8 L327.7,592.1 L329.5,592.4 L331.4,592.6 L333.2,592.9 L335.1,593.2 L336.9,593.5 L338.8,593.8 L340.6,594.1 L342.5,594.5 L344.3,594.8 L346.2,595.2 L348.0,595.6 L349.9,596.0 L351.7,596.4 L353.6,596.8 L355.4,597.3 L357.3,597.8 L359.1,598.2 L361.0,598.7 L362.8,599.2 L364.7,599.7 L366.5,600.2 L368.4,600.8 L370.2,601.3 L372.1,601.9 L373.9,602.4 L375.8,603.0 L377.6,603.6 L379.5,604.1 L381.3,604.7 L383.2,605.3 L385.0,605.9 L386.9,606.5 L388.7,607.2 L390.6,607.9 L392.4,608.5 L394.3,609.2 L396.1,610.0 L398.0,610.7 L399.8,611.5 L401.7,612.2 L403.5,613.0 L405.4,613.8 L407.2,614.6 L409.1,615.4 L410.9,616.3 L412.8,617.1 L414.6,617.9 L416.5,618.8 L418.3,619.6 L420.2,620.5 L422.0,621.3 L423.9,622.2 L425.7,623.1 L427.6,623.9 L429.4,624.8 L431.3,625.7 L433.1,626.6 L435.0,627.5 L436.8,628.4 L438.7,629.4 L440.5,630.3 L442.4,631.3 L444.2,632.2 L446.1,633.2 L447.9,634.2 L449.8,635.2 L451.6,636.1 L453.5,637.1 L455.3,638.2 L457.2,639.2 L459.0,640.2 L460.9,641.2 L462.7,642.2 L464.6,643.3 L466.4,644.3 L468.3,645.3 L470.1,646.4 L472.0,647.4 L473.8,648.5 L475.7,649.5 L477.5,650.6 L479.4,651.7 L481.2,652.8 L483.1,653.9 L484.9,655.0 L486.8,656.1 L488.6,657.2 L490.5,658.3 L492.3,659.5 L494.2,660.6 L496.0,661.7 L497.9,662.9 L499.7,664.0 L501.6,665.1 L503.4,666.3 L505.3,667.4 L507.1,668.6 L509.0,669.7 L510.8,670.9 L512.7,672.0 L514.5,673.1 L516.4,674.3 L518.3,675.4 L520.1,676.5 L522.0,677.7 L523.8,678.9 L525.7,680.0 L527.5,681.2 L529.4,682.3 L531.2,683.5 L533.1,684.7 L534.9,685.9 L536.8,687.0 L538.6,688.2 L540.5,689.4 L542.3,690.5 L544.2,691.7 L546.0,692.8 L547.9,694.0 L549.7,695.1 L551.6,696.3 L553.4,697.4 L555.3,698.5 L557.1,699.6 L559.0,700.7 L560.8,701.8 L562.7,702.8 L564.5,703.9 L566.4,705.0 L568.2,706.0 L570.1,707.1 L571.9,708.1 L573.8,709.2 L575.6,710.2 L577.5,711.2 L579.3,712.3 L581.2,713.3 L583.0,714.3 L584.9,715.3 L586.7,716.3 L588.6,717.3 L590.4,718.3 L592.3,719.3 L594.1,720.2 L596.0,721.2 L597.8,722.1 L599.7,723.1 L601.5,724.0 L603.4,724.9 L605.2,725.8 L607.1,726.7 L608.9,727.6 L610.8,728.5 L612.6,729.4 L614.5,730.3 L616.3,731.2 L618.2,732.1 L620.0,733.0 L621.9,733.8 L623.7,734.7 L625.6,735.5 L627.4,736.4 L629.3,737.2 L631.1,738.0 L633.0,738.8 L634.8,739.6 L636.7,740.4 L638.5,741.2 L640.4,742.0 L642.2,742.7 L644.1,743.4 L645.9,744.1 L647.8,744.8 L649.6,745.5 L651.5,746.2 L653.3,746.9 L655.2,747.5 L657.0,748.2 L658.9,748.9 L660.7,749.5 L662.6,750.2 L664.4,750.9 L666.3,751.5 L668.1,752.1 L670.0,752.8 L671.8,753.4 L673.7,754.0 L675.5,754.6 L677.4,755.1 L679.2,755.6 L681.1,756.2 L682.9,756.7 L684.8,757.1 L686.6,757.6 L688.5,758.0 L690.3,758.3 L692.2,758.7 L694.0,759.0 L695.9,759.3 L697.7,759.6 L699.6,759.9 L701.4,760.1 L703.3,760.4 L705.1,760.6 L707.0,760.8 L708.8,761.0 L710.7,761.2 L712.5,761.3 L714.4,761.5 L716.2,761.6 L718.1,761.6 L719.9,761.7 L721.8,761.8 L723.6,761.8 L725.5,761.9 L727.3,761.9 L729.2,762.0 L731.0,762.0 L732.9,762.1 L734.7,762.1 L736.6,762.1 L738.4,762.1 L740.3,762.1 L742.2,762.1 L744.0,762.1 L745.9,762.0 L747.7,762.0 L749.6,761.9 L751.4,761.9 L753.3,761.8 L755.1,761.8 L757.0,761.7 L758.8,761.6 L760.7,761.6 L762.5,761.5 L764.4,761.3 L766.2,761.2 L768.1,761.0 L769.9,760.8 L771.8,760.6 L773.6,760.4 L775.5,760.1 L777.3,759.9 L779.2,759.6 L781.0,759.3 L782.9,759.0 L784.7,758.7 L786.6,758.3 L788.4,758.0 L790.3,757.6 L792.1,757.1 L794.0,756.7 L795.8,756.2 L797.7,755.6 L799.5,755.1 L801.4,754.6 L803.2,754.0 L805.1,753.4 L806.9,752.8 L808.8,752.1 L810.6,751.5 L812.5,750.9 L814.3,750.2 L816.2,749.5 L818.0,748.9 L819.9,748.2 L821.7,747.5 L823.6,746.9 L825.4,746.2 L827.3,745.5 L829.1,744.8 L831.0,744.1 L832.8,743.4 L834.7,742.7 L836.5,742.0 L838.4,741.2 L840.2,740.4 L842.1,739.6 L843.9,738.8 L845.8,738.0 L847.6,737.2 L849.5,736.4 L851.3,735.5 L853.2,734.7 L855.0,733.8 L856.9,733.0 L858.7,732.1 L860.6,731.2 L862.4,730.3 L864.3,729.4 L866.1,728.5 L868.0,727.6 L869.8,726.7 L871.7,725.8 L873.5,724.9 L875.4,724.0 L877.2,723.1 L879.1,722.1 L880.9,721.2 L882.8,720.2 L884.6,719.3 L886.5,718.3 L888.3,717.3 L890.2,716.3 L892.0,715.3 L893.9,714.3 L895.7,713.3 L897.6,712.3 L899.4,711.2 L901.3,710.2 L903.1,709.2 L905.0,708.1 L906.8,707.1 L908.7,706.0 L910.5,705.0 L912.4,703.9 L914.2,702.8 L916.1,701.8 L917.9,700.7 L919.8,699.6 L921.6,698.5 L923.5,697.4 L925.3,696.3 L927.2,695.1 L929.0,694.0 L930.9,692.8 L932.7,691.7 L934.6,690.5 L936.4,689.4 L938.3,688.2 L940.1,687.0 L942.0,685.9 L943.8,684.7 L945.7,683.5 L947.5,682.3 L949.4,681.2 L951.2,680.0 L953.1,678.9 L954.9,677.7 L956.8,676.5 L958.6,675.4 L960.5,674.3 L962.4,673.1 L964.2,672.0 L966.1,670.9 L967.9,669.7 L969.8,668.6 L971.6,667.4 L973.5,666.3 L975.3,665.1 L977.2,664.0 L979.0,662.9 L980.9,661.7 L982.7,660.6 L984.6,659.5 L986.4,658.3 L988.3,657.2 L990.1,656.1 L992.0,655.0 L993.8,653.9 L995.7,652.8 L997.5,651.7 L999.4,650.6 L1001.2,649.5 L1003.1,648.5 L1004.9,647.4 L1006.8,646.4 L1008.6,645.3 L1010.5,644.3 L1012.3,643.3 L1014.2,642.2 L1016.0,641.2 L1017.9,640.2 L1019.7,639.2 L1021.6,638.2 L1023.4,637.1 L1025.3,636.1 L1027.1,635.2 L1029.0,634.2 L1030.8,633.2 L1032.7,632.2 L1034.5,631.3 L1036.4,630.3 L1038.2,629.4 L1040.1,628.4 L1041.9,627.5 L1043.8,626.6 L1045.6,625.7 L1047.5,624.8 L1049.3,623.9 L1051.2,623.1 L1053.0,622.2 L1054.9,621.3 L1056.7,620.5 L1058.6,619.6 L1060.4,618.8 L1062.3,617.9 L1064.1,617.1 L1066.0,616.3 L1067.8,615.4 L1069.7,614.6 L1071.5,613.8 L1073.4,613.0 L1075.2,612.2 L1077.1,611.5 L1078.9,610.7 L1080.8,610.0 L1082.6,609.2 L1084.5,608.5 L1086.3,607.9 L1088.2,607.2 L1090.0,606.5 L1091.9,605.9 L1093.7,605.3 L1095.6,604.7 L1097.4,604.1 L1099.3,603.6 L1101.1,603.0 L1103.0,602.4 L1104.8,601.9 L1106.7,601.3 L1108.5,600.8 L1110.4,600.2 L1112.2,599.7 L1114.1,599.2 L1115.9,598.7 L1117.8,598.2 L1119.6,597.8 L1121.5,597.3 L1123.3,596.8 L1125.2,596.4 L1127.0,596.0 L1128.9,595.6 L1130.7,595.2 L1132.6,594.8 L1134.4,594.5 L1136.3,594.1 L1138.1,593.8 L1140.0,593.5 L1141.8,593.2 L1143.7,592.9 L1145.5,592.6 L1147.4,592.4 L1149.2,592.1 L1151.1,591.8 L1152.9,591.6 L1154.8,591.3 L1156.6,591.1 L1158.5,590.8 L1160.3,590.6 L1162.2,590.4 L1164.0,590.2 L1165.9,589.9 L1167.7,589.7 L1169.6,589.5 L1171.4,589.4 L1173.3,589.2 L1175.1,589.0 L1177.0,588.8 L1178.8,588.7 L1180.7,588.5 L1182.5,588.4 L1184.4,588.2 L1186.3,588.1 L1188.1,587.9 L1190.0,587.8 L1191.8,587.7 L1193.7,587.6 L1195.5,587.5 L1197.4,587.4 L1199.2,587.3 L1201.1,587.2 L1202.9,587.1 L1204.8,587.0 L1206.6,586.9 L1208.5,586.8 L1210.3,586.7 L1212.2,586.6 L1214.0,586.5 L1215.9,586.4 L1217.7,586.3 L1219.6,586.2 L1221.4,586.1 L1223.3,586.0 L1225.1,585.9 L1227.0,585.8 L1228.8,585.7 L1230.7,585.6 L1232.5,585.5 L1234.4,585.4 L1236.2,585.3 L1238.1,585.2 L1239.9,585.1 L1241.8,585.0 L1243.6,584.9 L1245.5,584.8 L1247.3,584.7 L1249.2,584.6 L1251.0,584.5 L1252.9,584.4 L1254.7,584.3 L1256.6,584.2 L1258.4,584.1 L1260.3,584.0 L1262.1,583.8 L1264.0,583.7 L1265.8,583.6 L1267.7,583.5 L1269.5,583.4 L1271.4,583.3 L1273.2,583.1 L1275.1,583.0 L1276.9,582.9 L1278.8,582.7 L1280.6,582.6 L1282.5,582.4 L1284.3,582.3 L1286.2,582.1 L1288.0,582.0 L1289.9,581.8 L1291.7,581.7 L1293.6,581.5 L1295.4,581.4 L1297.3,581.2 L1299.1,581.1 L1301.0,580.9 L1302.8,580.7 L1304.7,580.6 L1306.5,580.4 L1308.4,580.2 L1310.2,580.1 L1312.1,579.9 L1313.9,579.8 L1315.8,579.6 L1317.6,579.4 L1319.5,579.3 L1321.3,579.1 L1323.2,578.9 L1325.0,578.7 L1326.9,578.5 L1328.7,578.3 L1330.6,578.1 L1332.4,577.9 L1334.3,577.7 L1336.1,577.5 L1338.0,577.3 L1339.8,577.1 L1341.7,577.0 L1343.5,576.8 L1345.4,576.6 L1347.2,576.4 L1349.1,576.3 L1350.9,576.1 L1352.8,576.0 L1354.6,575.9 L1356.5,575.8 L1358.3,575.7 L1360.2,575.6 L1362.0,575.5 L1363.9,575.5 L1365.7,575.4 L1367.6,575.3 L1369.4,575.2 L1371.3,575.2 L1373.1,575.1 L1375.0,575.1 L1376.8,575.0 L1378.7,574.9 L1380.5,574.9 L1382.4,574.8 L1384.2,574.8 L1386.1,574.7 L1387.9,574.7 L1389.8,574.7 L1391.6,574.6 L1393.5,574.6 L1395.3,574.6 L1397.2,574.5 L1399.0,574.5 L1400.9,574.5 L1402.7,574.5 L1404.6,574.5" fill="none" stroke="#ff0000" style="stroke-width:1.3"/>
<path d="M72.3,574.5 L74.2,575.1 L76.0,575.8 L77.9,576.5 L79.7,577.2 L81.6,577.9 L83.4,578.6 L85.3,579.4 L87.1,580.1 L89.0,580.9 L90.8,581.7 L92.7,582.5 L94.5,583.3 L96.4,584.1 L98.2,585.0 L100.1,585.8 L101.9,586.7 L103.8,587.5 L105.6,588.3 L107.5,589.1 L109.3,590.0 L111.2,590.9 L113.0,591.9 L114.9,593.0 L116.7,594.2 L118.6,595.6 L120.4,597.2 L122.3,599.0 L124.1,600.9 L126.0,603.0 L127.8,605.2 L129.7,607.4 L131.5,609.6 L133.4,611.9 L135.2,614.1 L137.1,616.2 L138.9,618.3 L140.8,620.4 L142.6,622.6 L144.5,624.8 L146.3,626.9 L148.2,629.2 L150.0,631.4 L151.9,633.6 L153.7,635.9 L155.6,638.2 L157.4,640.5 L159.3,642.9 L161.1,645.2 L163.0,647.6 L164.8,650.1 L166.7,652.6 L168.5,655.1 L170.4,657.7 L172.2,660.3 L174.1,662.9 L175.9,665.5 L177.8,668.0 L179.6,670.6 L181.5,673.2 L183.3,675.7 L185.2,678.3 L187.0,680.8 L188.9,683.3 L190.7,685.9 L192.6,688.4 L194.4,691.0 L196.3,693.5 L198.1,696.0 L200.0,698.6 L201.8,701.1 L203.7,703.6 L205.5,706.1 L207.4,708.7 L209.2,711.2 L211.1,713.8 L212.9,716.3 L214.8,718.9 L216.6,721.4 L218.5,723.9 L220.3,726.3 L222.2,728.7 L224.0,731.0 L225.9,733.3 L227.7,735.5 L229.6,737.7 L231.4,739.9 L233.3,742.0 L235.1,744.1 L237.0,746.2 L238.8,748.2 L240.7,750.3 L242.5,752.3 L244.4,754.4 L246.2,756.4 L248.1,758.4 L249.9,760.5 L251.8,762.5 L253.6,764.6 L255.5,766.6 L257.3,768.7 L259.2,770.7 L261.0,772.8 L262.9,774.8 L264.7,776.7 L266.6,778.7 L268.4,780.6 L270.3,782.4 L272.1,784.2 L274.0,785.9 L275.8,787.6 L277.7,789.2 L279.5,790.9 L281.4,792.5 L283.2,794.1 L285.1,795.6 L286.9,797.1 L288.8,798.6 L290.6,800.0 L292.5,801.4 L294.3,802.8 L296.2,804.1 L298.1,805.4 L299.9,806.7 L301.8,808.0 L303.6,809.3 L305.5,810.5 L307.3,811.7 L309.2,812.9 L311.0,814.0 L312.9,815.0 L314.7,816.0 L316.6,817.0 L318.4,817.9 L320.3,818.8 L322.1,819.7 L324.0,820.6 L325.8,821.5 L327.7,822.3 L329.5,823.0 L331.4,823.7 L333.2,824.4 L335.1,824.9 L336.9,825.4 L338.8,825.7 L340.6,826.0 L342.5,826.3 L344.3,826.6 L346.2,826.8 L348.0,827.1 L349.9,827.3 L351.7,827.5 L353.6,827.6 L355.4,827.7 L357.3,827.8 L359.1,827.9 L361.0,827.9 L362.8,827.9 L364.7,827.8 L366.5,827.7 L368.4,827.6 L370.2,827.4 L372.1,827.2 L373.9,827.0 L375.8,826.7 L377.6,826.5 L379.5,826.2 L381.3,826.0 L383.2,825.7 L385.0,825.5 L386.9,825.2 L388.7,824.8 L390.6,824.4 L392.4,824.0 L394.3,823.6 L396.1,823.2 L398.0,822.8 L399.8,822.4 L401.7,822.0 L403.5,821.7 L405.4,821.4 L407.2,821.1 L409.1,820.8 L410.9,820.5 L412.8,820.3 L414.6,820.0 L416.5,819.7 L418.3,819.5 L420.2,819.3 L422.0,819.0 L423.9,818.8 L425.7,818.6 L427.6,818.4 L429.4,818.2 L431.3,818.0 L433.1,817.8 L435.0,817.6 L436.8,817.4 L438.7,817.2 L440.5,817.1 L442.4,816.9 L444.2,816.8 L446.1,816.7 L447.9,816.6 L449.8,816.6 L451.6,816.6 L453.5,816.6 L455.3,816.7 L457.2,816.7 L459.0,816.8 L460.9,816.8 L462.7,816.9 L464.6,817.0 L466.4,817.1 L468.3,817.2 L470.1,817.3 L472.0,817.3 L473.8,817.5 L475.7,817.6 L477.5,817.8 L479.4,818.0 L481.2,818.3 L483.1,818.5 L484.9,818.8 L486.8,819.1 L488.6,819.4 L490.5,819.7 L492.3,820.0 L494.2,820.3 L496.0,820.6 L497.9,820.9 L499.7,821.2 L501.6,821.5 L503.4,821.9 L505.3,822.2 L507.1,822.6 L509.0,823.0 L510.8,823.4 L512.7,823.8 L514.5,824.2 L516.4,824.6 L518.3,825.1 L520.1,825.5 L522.0,826.0 L523.8,826.5 L525.7,827.1 L527.5,827.6 L529.4,828.1 L531.2,828.7 L533.1,829.2 L534.9,829.8 L536.8,830.3 L538.6,830.8 L540.5,831.4 L542.3,831.9 L544.2,832.5 L546.0,833.1 L547.9,833.6 L549.7,834.2 L551.6,834.8 L553.4,835.3 L555.3,835.9 L557.1,836.4 L559.0,836.9 L560.8,837.4 L562.7,837.9 L564.5,838.3 L566.4,838.8 L568.2,839.2 L570.1,839.7 L571.9,840.1 L573.8,840.5 L575.6,840.9 L577.5,841.3 L579.3,841.7 L581.2,842.1 L583.0,842.5 L584.9,842.9 L586.7,843.3 L588.6,843.6 L590.4,844.0 L592.3,844.4 L594.1,844.8 L596.0,845.1 L597.8,845.4 L599.7,845.8 L601.5,846.0 L603.4,846.3 L605.2,846.5 L607.1,846.7 L608.9,846.9 L610.8,847.1 L612.6,847.3 L614.5,847.5 L616.3,847.6 L618.2,847.8 L620.0,847.9 L621.9,848.0 L623.7,848.1 L625.6,848.2 L627.4,848.3 L629.3,848.4 L631.1,848.5 L633.0,848.6 L634.8,848.7 L636.7,848.8 L638.5,848.8 L640.4,848.9 L642.2,849.0 L644.1,849.0 L645.9,849.0 L647.8,849.1 L649.6,849.1 L651.5,849.1 L653.3,849.0 L655.2,849.0 L657.0,848.9 L658.9,848.8 L660.7,848.7 L662.6,848.6 L664.4,848.4 L666.3,848.3 L668.1,848.2 L670.0,848.1 L671.8,848.0 L673.7,847.9 L675.5,847.8 L677.4,847.6 L679.2,847.5 L681.1,847.4 L682.9,847.3 L684.8,847.1 L686.6,847.0 L688.5,846.9 L690.3,846.8 L692.2,846.6 L694.0,846.5 L695.9,846.4 L697.7,846.3 L699.6,846.1 L701.4,846.0 L703.3,845.9 L705.1,845.7 L707.0,845.6 L708.8,845.5 L710.7,845.4 L712.5,845.2 L714.4,845.1 L716.2,845.1 L718.1,845.0 L719.9,844.9 L721.8,844.8 L723.6,844.8 L725.5,844.7 L727.3,844.6 L729.2,844.6 L731.0,844.5 L732.9,844.5 L734.7,844.4 L736.6,844.4 L738.4,844.3 L740.3,844.4 L742.2,844.4 L744.0,844.5 L745.9,844.5 L747.7,844.6 L749.6,844.6 L751.4,844.7 L753.3,844.8 L755.1,844.8 L757.0,844.9 L758.8,845.0 L760.7,845.1 L762.5,845.1 L764.4,845.2 L766.2,845.4 L768.1,845.5 L769.9,845.6 L771.8,845.7 L773.6,845.9 L775.5,846.0 L777.3,846.1 L779.2,846.3 L781.0,846.4 L782.9,846.5 L784.7,846.6 L786.6,846.8 L788.4,846.9 L790.3,847.0 L792.1,847.1 L794.0,847.3 L795.8,847.4 L797.7,847.5 L799.5,847.6 L801.4,847.8 L803.2,847.9 L805.1,848.0 L806.9,848.1 L808.8,848.2 L810.6,848.3 L812.5,848.4 L814.3,848.6 L816.2,848.7 L818.0,848.8 L819.9,848.9 L821.7,849.0 L823.6,849.0 L825.4,849.1 L827.3,849.1 L829.1,849.1 L831.0,849.0 L832.8,849.0 L834.7,849.0 L836.5,848.9 L838.4,848.8 L840.2,848.8 L842.1,848.7 L843.9,848.6 L845.8,848.5 L847.6,848.4 L849.5,848.3 L851.3,848.2 L853.2,848.1 L855.0,848.0 L856.9,847.9 L858.7,847.8 L860.6,847.6 L862.4,847.5 L864.3,847.3 L866.1,847.1 L868.0,846.9 L869.8,846.7 L871.7,846.5 L873.5,846.3 L875.4,846.0 L877.2,845.8 L879.1,845.4 L880.9,845.1 L882.8,844.8 L884.6,844.4 L886.5,844.0 L888.3,843.6 L890.2,843.3 L892.0,842.9 L893.9,842.5 L895.7,842.1 L897.6,841.7 L899.4,841.3 L901.3,840.9 L903.1,840.5 L905.0,840.1 L906.8,839.7 L908.7,839.2 L910.5,838.8 L912.4,838.3 L914.2,837.9 L916.1,837.4 L917.9,836.9 L919.8,836.4 L921.6,835.9 L923.5,835.3 L925.3,834.8 L927.2,834.2 L929.0,833.6 L930.9,833.1 L932.7,832.5 L934.6,831.9 L936.4,831.4 L938.3,830.8 L940.1,830.3 L942.0,829.8 L943.8,829.2 L945.7,828.7 L947.5,828.1 L949.4,827.6 L951.2,827.1 L953.1,826.5 L954.9,826.0 L956.8,825.5 L958.6,825.1 L960.5,824.6 L962.4,824.2 L964.2,823.8 L966.1,823.4 L967.9,823.0 L969.8,822.6 L971.6,822.2 L973.5,821.9 L975.3,821.5 L977.2,821.2 L979.0,820.9 L980.9,820.6 L982.7,820.3 L984.6,820.0 L986.4,819.7 L988.3,819.4 L990.1,819.1 L992.0,818.8 L993.8,818.5 L995.7,818.3 L997.5,818.0 L999.4,817.8 L1001.2,817.6 L1003.1,817.5 L1004.9,817.3 L1006.8,817.3 L1008.6,817.2 L1010.5,817.1 L1012.3,817.0 L1014.2,816.9 L1016.0,816.8 L1017.9,816.8 L1019.7,816.7 L1021.6,816.7 L1023.4,816.6 L1025.3,816.6 L1027.1,816.6 L1029.0,816.6 L1030.8,816.7 L1032.7,816.8 L1034.5,816.9 L1036.4,817.1 L1038.2,817.2 L1040.1,817.4 L1041.9,817.6 L1043.8,817.8 L1045.6,818.0 L1047.5,818.2 L1049.3,818.4 L1051.2,818.6 L1053.0,818.8 L1054.9,819.0 L1056.7,819.3 L1058.6,819.5 L1060.4,819.7 L1062.3,820.0 L1064.1,820.3 L1066.0,820.5 L1067.8,820.8 L1069.7,821.1 L1071.5,821.4 L1073.4,821.7 L1075.2,822.0 L1077.1,822.4 L1078.9,822.8 L1080.8,823.2 L1082.6,823.6 L1084.5,824.0 L1086.3,824.4 L1088.2,824.8 L1090.0,825.2 L1091.9,825.5 L1093.7,825.7 L1095.6,826.0 L1097.4,826.2 L1099.3,826.5 L1101.1,826.7 L1103.0,827.0 L1104.8,827.2 L1106.7,827.4 L1108.5,827.6 L1110.4,827.7 L1112.2,827.8 L1114.1,827.9 L1115.9,827.9 L1117.8,827.9 L1119.6,827.8 L1121.5,827.7 L1123.3,827.6 L1125.2,827.5 L1127.0,827.3 L1128.9,827.1 L1130.7,826.8 L1132.6,826.6 L1134.4,826.3 L1136.3,826.0 L1138.1,825.7 L1140.0,825.4 L1141.8,824.9 L1143.7,824.4 L1145.5,823.7 L1147.4,823.0 L1149.2,822.3 L1151.1,821.5 L1152.9,820.6 L1154.8,819.7 L1156.6,818.8 L1158.5,817.9 L1160.3,817.0 L1162.2,816.0 L1164.0,815.0 L1165.9,814.0 L1167.7,812.9 L1169.6,811.7 L1171.4,810.5 L1173.3,809.3 L1175.1,808.0 L1177.0,806.7 L1178.8,805.4 L1180.7,804.1 L1182.5,802.8 L1184.4,801.4 L1186.3,800.0 L1188.1,798.6 L1190.0,797.1 L1191.8,795.6 L1193.7,794.1 L1195.5,792.5 L1197.4,790.9 L1199.2,789.2 L1201.1,787.6 L1202.9,785.9 L1204.8,784.2 L1206.6,782.4 L1208.5,780.6 L1210.3,778.7 L1212.2,776.7 L1214.0,774.8 L1215.9,772.8 L1217.7,770.7 L1219.6,768.7 L1221.4,766.6 L1223.3,764.6 L1225.1,762.5 L1227.0,760.5 L1228.8,758.4 L1230.7,756.4 L1232.5,754.4 L1234.4,752.3 L1236.2,750.3 L1238.1,748.2 L1239.9,746.2 L1241.8,744.1 L1243.6,742.0 L1245.5,739.9 L1247.3,737.7 L1249.2,735.5 L1251.0,733.3 L1252.9,731.0 L1254.7,728.7 L1256.6,726.3 L1258.4,723.9 L1260.3,721.4 L1262.1,718.9 L1264.0,716.3 L1265.8,713.8 L1267.7,711.2 L1269.5,708.7 L1271.4,706.1 L1273.2,703.6 L1275.1,701.1 L1276.9,698.6 L1278.8,696.0 L1280.6,693.5 L1282.5,691.0 L1284.3,688.4 L1286.2,685.9 L1288.0,683.3 L1289.9,680.8 L1291.7,678.3 L1293.6,675.7 L1295.4,673.2 L1297.3,670.6 L1299.1,668.0 L1301.0,665.5 L1302.8,662.9 L1304.7,660.3 L1306.5,657.7 L1308.4,655.1 L1310.2,652.6 L1312.1,650.1 L1313.9,647.6 L1315.8,645.2 L1317.6,642.9 L1319.5,640.5 L1321.3,638.2 L1323.2,635.9 L1325.0,633.6 L1326.9,631.4 L1328.7,629.2 L1330.6,626.9 L1332.4,624.8 L1334.3,622.6 L1336.1,620.4 L1338.0,618.3 L1339.8,616.2 L1341.7,614.1 L1343.5,611.9 L1345.4,609.6 L1347.2,607.4 L1349.1,605.2 L1350.9,603.0 L1352.8,600.9 L1354.6,599.0 L1356.5,597.2 L1358.3,595.6 L1360.2,594.2 L1362.0,593.0 L1363.9,591.9 L1365.7,590.9 L1367.6,590.0 L1369.4,589.1 L1371.3,588.3 L1373.1,587.5 L1375.0,586.7 L1376.8,585.8 L1378.7,585.0 L1380.5,584.1 L1382.4,583.3 L1384.2,582.5 L1386.1,581.7 L1387.9,580.9 L1389.8,580.1 L1391.6,579.4 L1393.5,578.6 L1395.3,577.9 L1397.2,577.2 L1399.0,576.5 L1400.9,575.8 L1402.7,575.1 L1404.6,574.5" fill="none" stroke="#006600" style="stroke-width:1.4;stroke-dasharray:4 6.3"/>
<path d="M72.3,574.5 L74.2,575.8 L76.0,577.2 L77.9,578.7 L79.7,580.3 L81.6,582.0 L83.4,583.8 L85.3,585.7 L87.1,587.8 L89.0,590.2 L90.8,592.7 L92.7,595.9 L94.5,599.8 L96.4,604.1 L98.2,608.8 L100.1,613.5 L101.9,618.1 L103.8,623.1 L105.6,628.3 L107.5,633.4 L109.3,638.4 L111.2,643.0 L113.0,647.2 L114.9,651.3 L116.7,655.8 L118.6,661.1 L120.4,666.9 L122.3,673.1 L124.1,679.6 L126.0,686.8 L127.8,694.5 L129.7,702.3 L131.5,710.1 L133.4,717.4 L135.2,724.5 L137.1,731.6 L138.9,738.5 L140.8,745.2 L142.6,751.7 L144.5,758.1 L146.3,764.3 L148.2,770.3 L150.0,776.2 L151.9,781.9 L153.7,787.5 L155.6,792.8 L157.4,798.0 L159.3,803.1 L161.1,808.2 L163.0,813.5 L164.8,818.7 L166.7,823.8 L168.5,828.5 L170.4,832.8 L172.2,837.0 L174.1,841.0 L175.9,844.5 L177.8,847.6 L179.6,850.2 L181.5,852.8 L183.3,855.2 L185.2,857.4 L187.0,859.3 L188.9,860.7 L190.7,861.6 L192.6,862.0 L194.4,862.3 L196.3,862.6 L198.1,862.8 L200.0,863.0 L201.8,863.1 L203.7,863.2 L205.5,863.3 L207.4,863.3 L209.2,863.4 L211.1,863.4 L212.9,863.4 L214.8,863.5 L216.6,863.5 L218.5,863.5 L220.3,863.5 L222.2,863.6 L224.0,863.6 L225.9,863.6 L227.7,863.7 L229.6,863.7 L231.4,863.7 L233.3,863.8 L235.1,863.8 L237.0,863.9 L238.8,863.9 L240.7,864.0 L242.5,864.0 L244.4,864.1 L246.2,864.2 L248.1,864.3 L249.9,864.4 L251.8,864.6 L253.6,864.8 L255.5,865.2 L257.3,865.6 L259.2,866.1 L261.0,866.6 L262.9,867.2 L264.7,867.8 L266.6,868.3 L268.4,868.9 L270.3,869.4 L272.1,869.9 L274.0,870.3 L275.8,870.7 L277.7,871.1 L279.5,871.6 L281.4,872.0 L283.2,872.4 L285.1,872.8 L286.9,873.2 L288.8,873.6 L290.6,873.9 L292.5,874.3 L294.3,874.6 L296.2,874.9 L298.1,875.2 L299.9,875.5 L301.8,875.8 L303.6,876.0 L305.5,876.3 L307.3,876.6 L309.2,876.8 L311.0,877.0 L312.9,877.2 L314.7,877.4 L316.6,877.5 L318.4,877.6 L320.3,877.8 L322.1,877.9 L324.0,878.0 L325.8,878.1 L327.7,878.2 L329.5,878.3 L331.4,878.4 L333.2,878.5 L335.1,878.5 L336.9,878.6 L338.8,878.6 L340.6,878.6 L342.5,878.7 L344.3,878.7 L346.2,878.7 L348.0,878.7 L349.9,878.7 L351.7,878.7 L353.6,878.7 L355.4,878.8 L357.3,878.8 L359.1,878.8 L361.0,878.8 L362.8,878.8 L364.7,878.8 L366.5,878.8 L368.4,878.8 L370.2,878.8 L372.1,878.8 L373.9,878.9 L375.8,878.9 L377.6,878.9 L379.5,878.9 L381.3,878.9 L383.2,879.0 L385.0,879.0 L386.9,879.1 L388.7,879.2 L390.6,879.4 L392.4,879.5 L394.3,879.7 L396.1,879.9 L398.0,880.1 L399.8,880.3 L401.7,880.5 L403.5,880.6 L405.4,880.8 L407.2,880.9 L409.1,881.1 L410.9,881.3 L412.8,881.4 L414.6,881.6 L416.5,881.7 L418.3,881.9 L420.2,882.0 L422.0,882.1 L423.9,882.2 L425.7,882.2 L427.6,882.3 L429.4,882.2 L431.3,882.2 L433.1,882.2 L435.0,882.2 L436.8,882.2 L438.7,882.1 L440.5,882.1 L442.4,882.1 L444.2,882.0 L446.1,882.0 L447.9,881.9 L449.8,881.9 L451.6,881.8 L453.5,881.8 L455.3,881.8 L457.2,881.7 L459.0,881.7 L460.9,881.6 L462.7,881.6 L464.6,881.6 L466.4,881.6 L468.3,881.5 L470.1,881.5 L472.0,881.5 L473.8,881.5 L475.7,881.5 L477.5,881.5 L479.4,881.5 L481.2,881.5 L483.1,881.5 L484.9,881.5 L486.8,881.5 L488.6,881.5 L490.5,881.5 L492.3,881.5 L494.2,881.5 L496.0,881.5 L497.9,881.5 L499.7,881.5 L501.6,881.5 L503.4,881.5 L505.3,881.5 L507.1,881.5 L509.0,881.5 L510.8,881.5 L512.7,881.5 L514.5,881.5 L516.4,881.5 L518.3,881.5 L520.1,881.6 L522.0,881.6 L523.8,881.6 L525.7,881.7 L527.5,881.8 L529.4,881.8 L531.2,881.9 L533.1,882.0 L534.9,882.1 L536.8,882.2 L538.6,882.3 L540.5,882.3 L542.3,882.4 L544.2,882.5 L546.0,882.6 L547.9,882.7 L549.7,882.8 L551.6,882.8 L553.4,882.9 L555.3,882.9 L557.1,883.0 L559.0,883.0 L560.8,883.0 L562.7,883.0 L564.5,883.0 L566.4,883.0 L568.2,883.0 L570.1,883.0 L571.9,883.0 L573.8,883.0 L575.6,883.0 L577.5,883.0 L579.3,883.0 L581.2,883.0 L583.0,883.0 L584.9,883.0 L586.7,883.0 L588.6,883.0 L590.4,883.0 L592.3,883.0 L594.1,883.0 L596.0,883.0 L597.8,883.0 L599.7,883.0 L601.5,883.0 L603.4,883.0 L605.2,883.0 L607.1,883.0 L608.9,883.0 L610.8,883.0 L612.6,882.9 L614.5,882.9 L616.3,882.9 L618.2,882.8 L620.0,882.8 L621.9,882.8 L623.7,882.7 L625.6,882.7 L627.4,882.6 L629.3,882.6 L631.1,882.5 L633.0,882.5 L634.8,882.4 L636.7,882.4 L638.5,882.4 L640.4,882.3 L642.2,882.3 L644.1,882.3 L645.9,882.3 L647.8,882.3 L649.6,882.3 L651.5,882.3 L653.3,882.3 L655.2,882.3 L657.0,882.3 L658.9,882.3 L660.7,882.3 L662.6,882.3 L664.4,882.3 L666.3,882.3 L668.1,882.4 L670.0,882.4 L671.8,882.4 L673.7,882.4 L675.5,882.4 L677.4,882.4 L679.2,882.5 L681.1,882.5 L682.9,882.5 L684.8,882.5 L686.6,882.5 L688.5,882.6 L690.3,882.6 L692.2,882.6 L694.0,882.6 L695.9,882.6 L697.7,882.6 L699.6,882.7 L701.4,882.7 L703.3,882.7 L705.1,882.7 L707.0,882.7 L708.8,882.7 L710.7,882.8 L712.5,882.8 L714.4,882.8 L716.2,882.8 L718.1,882.8 L719.9,882.8 L721.8,882.8 L723.6,882.9 L725.5,882.9 L727.3,882.9 L729.2,882.9 L731.0,882.9 L732.9,882.9 L734.7,883.0 L736.6,883.0 L738.4,883.0 L740.3,883.0 L742.2,883.0 L744.0,882.9 L745.9,882.9 L747.7,882.9 L749.6,882.9 L751.4,882.9 L753.3,882.9 L755.1,882.8 L757.0,882.8 L758.8,882.8 L760.7,882.8 L762.5,882.8 L764.4,882.8 L766.2,882.8 L768.1,882.7 L769.9,882.7 L771.8,882.7 L773.6,882.7 L775.5,882.7 L777.3,882.7 L779.2,882.6 L781.0,882.6 L782.9,882.6 L784.7,882.6 L786.6,882.6 L788.4,882.6 L790.3,882.5 L792.1,882.5 L794.0,882.5 L795.8,882.5 L797.7,882.5 L799.5,882.4 L801.4,882.4 L803.2,882.4 L805.1,882.4 L806.9,882.4 L808.8,882.4 L810.6,882.3 L812.5,882.3 L814.3,882.3 L816.2,882.3 L818.0,882.3 L819.9,882.3 L821.7,882.3 L823.6,882.3 L825.4,882.3 L827.3,882.3 L829.1,882.3 L831.0,882.3 L832.8,882.3 L834.7,882.3 L836.5,882.3 L838.4,882.4 L840.2,882.4 L842.1,882.4 L843.9,882.5 L845.8,882.5 L847.6,882.6 L849.5,882.6 L851.3,882.7 L853.2,882.7 L855.0,882.8 L856.9,882.8 L858.7,882.8 L860.6,882.9 L862.4,882.9 L864.3,882.9 L866.1,883.0 L868.0,883.0 L869.8,883.0 L871.7,883.0 L873.5,883.0 L875.4,883.0 L877.2,883.0 L879.1,883.0 L880.9,883.0 L882.8,883.0 L884.6,883.0 L886.5,883.0 L888.3,883.0 L890.2,883.0 L892.0,883.0 L893.9,883.0 L895.7,883.0 L897.6,883.0 L899.4,883.0 L901.3,883.0 L903.1,883.0 L905.0,883.0 L906.8,883.0 L908.7,883.0 L910.5,883.0 L912.4,883.0 L914.2,883.0 L916.1,883.0 L917.9,883.0 L919.8,883.0 L921.6,882.9 L923.5,882.9 L925.3,882.8 L927.2,882.8 L929.0,882.7 L930.9,882.6 L932.7,882.5 L934.6,882.4 L936.4,882.3 L938.3,882.3 L940.1,882.2 L942.0,882.1 L943.8,882.0 L945.7,881.9 L947.5,881.8 L949.4,881.8 L951.2,881.7 L953.1,881.6 L954.9,881.6 L956.8,881.6 L958.6,881.5 L960.5,881.5 L962.4,881.5 L964.2,881.5 L966.1,881.5 L967.9,881.5 L969.8,881.5 L971.6,881.5 L973.5,881.5 L975.3,881.5 L977.2,881.5 L979.0,881.5 L980.9,881.5 L982.7,881.5 L984.6,881.5 L986.4,881.5 L988.3,881.5 L990.1,881.5 L992.0,881.5 L993.8,881.5 L995.7,881.5 L997.5,881.5 L999.4,881.5 L1001.2,881.5 L1003.1,881.5 L1004.9,881.5 L1006.8,881.5 L1008.6,881.5 L1010.5,881.6 L1012.3,881.6 L1014.2,881.6 L1016.0,881.6 L1017.9,881.7 L1019.7,881.7 L1021.6,881.8 L1023.4,881.8 L1025.3,881.8 L1027.1,881.9 L1029.0,881.9 L1030.8,882.0 L1032.7,882.0 L1034.5,882.1 L1036.4,882.1 L1038.2,882.1 L1040.1,882.2 L1041.9,882.2 L1043.8,882.2 L1045.6,882.2 L1047.5,882.2 L1049.3,882.3 L1051.2,882.2 L1053.0,882.2 L1054.9,882.1 L1056.7,882.0 L1058.6,881.9 L1060.4,881.7 L1062.3,881.6 L1064.1,881.4 L1066.0,881.3 L1067.8,881.1 L1069.7,880.9 L1071.5,880.8 L1073.4,880.6 L1075.2,880.5 L1077.1,880.3 L1078.9,880.1 L1080.8,879.9 L1082.6,879.7 L1084.5,879.5 L1086.3,879.4 L1088.2,879.2 L1090.0,879.1 L1091.9,879.0 L1093.7,879.0 L1095.6,878.9 L1097.4,878.9 L1099.3,878.9 L1101.1,878.9 L1103.0,878.9 L1104.8,878.8 L1106.7,878.8 L1108.5,878.8 L1110.4,878.8 L1112.2,878.8 L1114.1,878.8 L1115.9,878.8 L1117.8,878.8 L1119.6,878.8 L1121.5,878.8 L1123.3,878.7 L1125.2,878.7 L1127.0,878.7 L1128.9,878.7 L1130.7,878.7 L1132.6,878.7 L1134.4,878.7 L1136.3,878.6 L1138.1,878.6 L1140.0,878.6 L1141.8,878.5 L1143.7,878.5 L1145.5,878.4 L1147.4,878.3 L1149.2,878.2 L1151.1,878.1 L1152.9,878.0 L1154.8,877.9 L1156.6,877.8 L1158.5,877.6 L1160.3,877.5 L1162.2,877.4 L1164.0,877.2 L1165.9,877.0 L1167.7,876.8 L1169.6,876.6 L1171.4,876.3 L1173.3,876.0 L1175.1,875.8 L1177.0,875.5 L1178.8,875.2 L1180.7,874.9 L1182.5,874.6 L1184.4,874.3 L1186.3,873.9 L1188.1,873.6 L1190.0,873.2 L1191.8,872.8 L1193.7,872.4 L1195.5,872.0 L1197.4,871.6 L1199.2,871.1 L1201.1,870.7 L1202.9,870.3 L1204.8,869.9 L1206.6,869.4 L1208.5,868.9 L1210.3,868.3 L1212.2,867.8 L1214.0,867.2 L1215.9,866.6 L1217.7,866.1 L1219.6,865.6 L1221.4,865.2 L1223.3,864.8 L1225.1,864.6 L1227.0,864.4 L1228.8,864.3 L1230.7,864.2 L1232.5,864.1 L1234.4,864.0 L1236.2,864.0 L1238.1,863.9 L1239.9,863.9 L1241.8,863.8 L1243.6,863.8 L1245.5,863.7 L1247.3,863.7 L1249.2,863.7 L1251.0,863.6 L1252.9,863.6 L1254.7,863.6 L1256.6,863.5 L1258.4,863.5 L1260.3,863.5 L1262.1,863.5 L1264.0,863.4 L1265.8,863.4 L1267.7,863.4 L1269.5,863.3 L1271.4,863.3 L1273.2,863.2 L1275.1,863.1 L1276.9,863.0 L1278.8,862.8 L1280.6,862.6 L1282.5,862.3 L1284.3,862.0 L1286.2,861.6 L1288.0,860.7 L1289.9,859.3 L1291.7,857.4 L1293.6,855.2 L1295.4,852.8 L1297.3,850.2 L1299.1,847.6 L1301.0,844.5 L1302.8,841.0 L1304.7,837.0 L1306.5,832.8 L1308.4,828.5 L1310.2,823.8 L1312.1,818.7 L1313.9,813.5 L1315.8,808.2 L1317.6,803.1 L1319.5,798.0 L1321.3,792.8 L1323.2,787.5 L1325.0,781.9 L1326.9,776.2 L1328.7,770.3 L1330.6,764.3 L1332.4,758.1 L1334.3,751.7 L1336.1,745.2 L1338.0,738.5 L1339.8,731.6 L1341.7,724.5 L1343.5,717.4 L1345.4,710.1 L1347.2,702.3 L1349.1,694.5 L1350.9,686.8 L1352.8,679.6 L1354.6,673.1 L1356.5,666.9 L1358.3,661.1 L1360.2,655.8 L1362.0,651.3 L1363.9,647.2 L1365.7,643.0 L1367.6,638.4 L1369.4,633.4 L1371.3,628.3 L1373.1,623.1 L1375.0,618.1 L1376.8,613.5 L1378.7,608.8 L1380.5,604.1 L1382.4,599.8 L1384.2,595.9 L1386.1,592.7 L1387.9,590.2 L1389.8,587.8 L1391.6,585.7 L1393.5,583.8 L1395.3,582.0 L1397.2,580.3 L1399.0,578.7 L1400.9,577.2 L1402.7,575.8 L1404.6,574.5" fill="none" stroke="#0000ff" style="stroke-width:1.7;stroke-dasharray:1.9 3.3"/>
<path d="M72.3,574.5 L74.2,575.6 L76.0,578.1 L77.9,581.6 L79.7,585.8 L81.6,590.4 L83.4,596.8 L85.3,605.1 L87.1,614.7 L89.0,625.2 L90.8,638.0 L92.7,651.1 L94.5,663.6 L96.4,676.0 L98.2,688.5 L100.1,700.8 L101.9,713.4 L103.8,726.6 L105.6,740.4 L107.5,754.6 L109.3,769.7 L111.2,784.8 L113.0,798.3 L114.9,810.8 L116.7,822.8 L118.6,835.1 L120.4,847.0 L122.3,857.1 L124.1,866.3 L126.0,874.5 L127.8,880.4 L129.7,883.9 L131.5,887.0 L133.4,889.4 L135.2,890.8 L137.1,891.0 L138.9,890.4 L140.8,889.5 L142.6,888.3 L144.5,887.1 L146.3,885.8 L148.2,884.9 L150.0,884.2 L151.9,883.6 L153.7,883.1 L155.6,882.8 L157.4,882.6 L159.3,882.9 L161.1,883.6 L163.0,884.4 L164.8,885.5 L166.7,886.9 L168.5,888.5 L170.4,890.2 L172.2,891.9 L174.1,893.5 L175.9,894.8 L177.8,896.2 L179.6,897.7 L181.5,899.1 L183.3,900.4 L185.2,901.4 L187.0,902.1 L188.9,902.4 L190.7,902.6 L192.6,902.7 L194.4,902.8 L196.3,902.9 L198.1,903.0 L200.0,903.1 L201.8,903.2 L203.7,903.3 L205.5,903.4 L207.4,903.6 L209.2,903.8 L211.1,904.0 L212.9,904.3 L214.8,904.5 L216.6,904.8 L218.5,905.1 L220.3,905.4 L222.2,905.6 L224.0,905.9 L225.9,906.1 L227.7,906.3 L229.6,906.5 L231.4,906.7 L233.3,906.9 L235.1,907.0 L237.0,907.2 L238.8,907.3 L240.7,907.5 L242.5,907.6 L244.4,907.8 L246.2,907.9 L248.1,908.0 L249.9,908.1 L251.8,908.3 L253.6,908.4 L255.5,908.5 L257.3,908.6 L259.2,908.7 L261.0,908.8 L262.9,908.9 L264.7,909.0 L266.6,909.1 L268.4,909.1 L270.3,909.2 L272.1,909.2 L274.0,909.3 L275.8,909.3 L277.7,909.4 L279.5,909.4 L281.4,909.4 L283.2,909.5 L285.1,909.5 L286.9,909.5 L288.8,909.5 L290.6,909.6 L292.5,909.6 L294.3,909.6 L296.2,909.6 L298.1,909.6 L299.9,909.7 L301.8,909.7 L303.6,909.7 L305.5,909.7 L307.3,909.7 L309.2,909.7 L311.0,909.7 L312.9,909.8 L314.7,909.8 L316.6,909.8 L318.4,909.8 L320.3,909.8 L322.1,909.8 L324.0,909.8 L325.8,909.8 L327.7,909.9 L329.5,909.9 L331.4,909.9 L333.2,909.9 L335.1,909.9 L336.9,909.9 L338.8,910.0 L340.6,910.0 L342.5,910.0 L344.3,910.0 L346.2,910.1 L348.0,910.1 L349.9,910.1 L351.7,910.1 L353.6,910.2 L355.4,910.2 L357.3,910.2 L359.1,910.3 L361.0,910.3 L362.8,910.3 L364.7,910.3 L366.5,910.4 L368.4,910.4 L370.2,910.4 L372.1,910.5 L373.9,910.5 L375.8,910.6 L377.6,910.6 L379.5,910.6 L381.3,910.7 L383.2,910.7 L385.0,910.7 L386.9,910.8 L388.7,910.8 L390.6,910.9 L392.4,910.9 L394.3,911.0 L396.1,911.0 L398.0,911.1 L399.8,911.2 L401.7,911.2 L403.5,911.3 L405.4,911.4 L407.2,911.4 L409.1,911.5 L410.9,911.5 L412.8,911.6 L414.6,911.6 L416.5,911.7 L418.3,911.7 L420.2,911.7 L422.0,911.8 L423.9,911.8 L425.7,911.8 L427.6,911.8 L429.4,911.8 L431.3,911.8 L433.1,911.8 L435.0,911.8 L436.8,911.8 L438.7,911.7 L440.5,911.7 L442.4,911.7 L444.2,911.7 L446.1,911.7 L447.9,911.7 L449.8,911.7 L451.6,911.6 L453.5,911.6 L455.3,911.6 L457.2,911.6 L459.0,911.6 L460.9,911.5 L462.7,911.5 L464.6,911.5 L466.4,911.5 L468.3,911.5 L470.1,911.4 L472.0,911.4 L473.8,911.4 L475.7,911.4 L477.5,911.4 L479.4,911.4 L481.2,911.3 L483.1,911.3 L484.9,911.3 L486.8,911.3 L488.6,911.3 L490.5,911.2 L492.3,911.2 L494.2,911.2 L496.0,911.2 L497.9,911.2 L499.7,911.1 L501.6,911.1 L503.4,911.1 L505.3,911.1 L507.1,911.1 L509.0,911.1 L510.8,911.1 L512.7,911.1 L514.5,911.1 L516.4,911.1 L518.3,911.1 L520.1,911.1 L522.0,911.1 L523.8,911.1 L525.7,911.1 L527.5,911.1 L529.4,911.1 L531.2,911.1 L533.1,911.1 L534.9,911.2 L536.8,911.2 L538.6,911.2 L540.5,911.2 L542.3,911.2 L544.2,911.3 L546.0,911.3 L547.9,911.3 L549.7,911.3 L551.6,911.3 L553.4,911.4 L555.3,911.4 L557.1,911.4 L559.0,911.4 L560.8,911.4 L562.7,911.4 L564.5,911.5 L566.4,911.5 L568.2,911.5 L570.1,911.5 L571.9,911.5 L573.8,911.6 L575.6,911.6 L577.5,911.6 L579.3,911.6 L581.2,911.6 L583.0,911.7 L584.9,911.7 L586.7,911.7 L588.6,911.7 L590.4,911.7 L592.3,911.7 L594.1,911.7 L596.0,911.8 L597.8,911.8 L599.7,911.8 L601.5,911.8 L603.4,911.8 L605.2,911.8 L607.1,911.8 L608.9,911.8 L610.8,911.8 L612.6,911.8 L614.5,911.7 L616.3,911.7 L618.2,911.7 L620.0,911.7 L621.9,911.7 L623.7,911.7 L625.6,911.6 L627.4,911.6 L629.3,911.6 L631.1,911.6 L633.0,911.5 L634.8,911.5 L636.7,911.5 L638.5,911.5 L640.4,911.5 L642.2,911.5 L644.1,911.4 L645.9,911.4 L647.8,911.4 L649.6,911.4 L651.5,911.4 L653.3,911.4 L655.2,911.4 L657.0,911.4 L658.9,911.4 L660.7,911.4 L662.6,911.4 L664.4,911.4 L666.3,911.4 L668.1,911.4 L670.0,911.4 L671.8,911.4 L673.7,911.4 L675.5,911.4 L677.4,911.4 L679.2,911.4 L681.1,911.4 L682.9,911.4 L684.8,911.4 L686.6,911.4 L688.5,911.4 L690.3,911.4 L692.2,911.4 L694.0,911.4 L695.9,911.4 L697.7,911.4 L699.6,911.4 L701.4,911.4 L703.3,911.4 L705.1,911.4 L707.0,911.4 L708.8,911.4 L710.7,911.4 L712.5,911.4 L714.4,911.4 L716.2,911.4 L718.1,911.4 L719.9,911.4 L721.8,911.4 L723.6,911.4 L725.5,911.4 L727.3,911.4 L729.2,911.4 L731.0,911.4 L732.9,911.4 L734.7,911.4 L736.6,911.4 L738.4,911.4 L740.3,911.4 L742.2,911.4 L744.0,911.4 L745.9,911.4 L747.7,911.4 L749.6,911.4 L751.4,911.4 L753.3,911.4 L755.1,911.4 L757.0,911.4 L758.8,911.4 L760.7,911.4 L762.5,911.4 L764.4,911.4 L766.2,911.4 L768.1,911.4 L769.9,911.4 L771.8,911.4 L773.6,911.4 L775.5,911.4 L777.3,911.4 L779.2,911.4 L781.0,911.4 L782.9,911.4 L784.7,911.4 L786.6,911.4 L788.4,911.4 L790.3,911.4 L792.1,911.4 L794.0,911.4 L795.8,911.4 L797.7,911.4 L799.5,911.4 L801.4,911.4 L803.2,911.4 L805.1,911.4 L806.9,911.4 L808.8,911.4 L810.6,911.4 L812.5,911.4 L814.3,911.4 L816.2,911.4 L818.0,911.4 L819.9,911.4 L821.7,911.4 L823.6,911.4 L825.4,911.4 L827.3,911.4 L829.1,911.4 L831.0,911.4 L832.8,911.4 L834.7,911.5 L836.5,911.5 L838.4,911.5 L840.2,911.5 L842.1,911.5 L843.9,911.5 L845.8,911.6 L847.6,911.6 L849.5,911.6 L851.3,911.6 L853.2,911.7 L855.0,911.7 L856.9,911.7 L858.7,911.7 L860.6,911.7 L862.4,911.7 L864.3,911.8 L866.1,911.8 L868.0,911.8 L869.8,911.8 L871.7,911.8 L873.5,911.8 L875.4,911.8 L877.2,911.8 L879.1,911.8 L880.9,911.8 L882.8,911.7 L884.6,911.7 L886.5,911.7 L888.3,911.7 L890.2,911.7 L892.0,911.7 L893.9,911.7 L895.7,911.6 L897.6,911.6 L899.4,911.6 L901.3,911.6 L903.1,911.6 L905.0,911.5 L906.8,911.5 L908.7,911.5 L910.5,911.5 L912.4,911.5 L914.2,911.4 L916.1,911.4 L917.9,911.4 L919.8,911.4 L921.6,911.4 L923.5,911.4 L925.3,911.3 L927.2,911.3 L929.0,911.3 L930.9,911.3 L932.7,911.3 L934.6,911.2 L936.4,911.2 L938.3,911.2 L940.1,911.2 L942.0,911.2 L943.8,911.1 L945.7,911.1 L947.5,911.1 L949.4,911.1 L951.2,911.1 L953.1,911.1 L954.9,911.1 L956.8,911.1 L958.6,911.1 L960.5,911.1 L962.4,911.1 L964.2,911.1 L966.1,911.1 L967.9,911.1 L969.8,911.1 L971.6,911.1 L973.5,911.1 L975.3,911.1 L977.2,911.1 L979.0,911.2 L980.9,911.2 L982.7,911.2 L984.6,911.2 L986.4,911.2 L988.3,911.3 L990.1,911.3 L992.0,911.3 L993.8,911.3 L995.7,911.3 L997.5,911.4 L999.4,911.4 L1001.2,911.4 L1003.1,911.4 L1004.9,911.4 L1006.8,911.4 L1008.6,911.5 L1010.5,911.5 L1012.3,911.5 L1014.2,911.5 L1016.0,911.5 L1017.9,911.6 L1019.7,911.6 L1021.6,911.6 L1023.4,911.6 L1025.3,911.6 L1027.1,911.7 L1029.0,911.7 L1030.8,911.7 L1032.7,911.7 L1034.5,911.7 L1036.4,911.7 L1038.2,911.7 L1040.1,911.8 L1041.9,911.8 L1043.8,911.8 L1045.6,911.8 L1047.5,911.8 L1049.3,911.8 L1051.2,911.8 L1053.0,911.8 L1054.9,911.8 L1056.7,911.7 L1058.6,911.7 L1060.4,911.7 L1062.3,911.6 L1064.1,911.6 L1066.0,911.5 L1067.8,911.5 L1069.7,911.4 L1071.5,911.4 L1073.4,911.3 L1075.2,911.2 L1077.1,911.2 L1078.9,911.1 L1080.8,911.0 L1082.6,911.0 L1084.5,910.9 L1086.3,910.9 L1088.2,910.8 L1090.0,910.8 L1091.9,910.7 L1093.7,910.7 L1095.6,910.7 L1097.4,910.6 L1099.3,910.6 L1101.1,910.6 L1103.0,910.5 L1104.8,910.5 L1106.7,910.4 L1108.5,910.4 L1110.4,910.4 L1112.2,910.3 L1114.1,910.3 L1115.9,910.3 L1117.8,910.3 L1119.6,910.2 L1121.5,910.2 L1123.3,910.2 L1125.2,910.1 L1127.0,910.1 L1128.9,910.1 L1130.7,910.1 L1132.6,910.0 L1134.4,910.0 L1136.3,910.0 L1138.1,910.0 L1140.0,909.9 L1141.8,909.9 L1143.7,909.9 L1145.5,909.9 L1147.4,909.9 L1149.2,909.9 L1151.1,909.8 L1152.9,909.8 L1154.8,909.8 L1156.6,909.8 L1158.5,909.8 L1160.3,909.8 L1162.2,909.8 L1164.0,909.8 L1165.9,909.7 L1167.7,909.7 L1169.6,909.7 L1171.4,909.7 L1173.3,909.7 L1175.1,909.7 L1177.0,909.7 L1178.8,909.6 L1180.7,909.6 L1182.5,909.6 L1184.4,909.6 L1186.3,909.6 L1188.1,909.5 L1190.0,909.5 L1191.8,909.5 L1193.7,909.5 L1195.5,909.4 L1197.4,909.4 L1199.2,909.4 L1201.1,909.3 L1202.9,909.3 L1204.8,909.2 L1206.6,909.2 L1208.5,909.1 L1210.3,909.1 L1212.2,909.0 L1214.0,908.9 L1215.9,908.8 L1217.7,908.7 L1219.6,908.6 L1221.4,908.5 L1223.3,908.4 L1225.1,908.3 L1227.0,908.1 L1228.8,908.0 L1230.7,907.9 L1232.5,907.8 L1234.4,907.6 L1236.2,907.5 L1238.1,907.3 L1239.9,907.2 L1241.8,907.0 L1243.6,906.9 L1245.5,906.7 L1247.3,906.5 L1249.2,906.3 L1251.0,906.1 L1252.9,905.9 L1254.7,905.6 L1256.6,905.4 L1258.4,905.1 L1260.3,904.8 L1262.1,904.5 L1264.0,904.3 L1265.8,904.0 L1267.7,903.8 L1269.5,903.6 L1271.4,903.4 L1273.2,903.3 L1275.1,903.2 L1276.9,903.1 L1278.8,903.0 L1280.6,902.9 L1282.5,902.8 L1284.3,902.7 L1286.2,902.6 L1288.0,902.4 L1289.9,902.1 L1291.7,901.4 L1293.6,900.4 L1295.4,899.1 L1297.3,897.7 L1299.1,896.2 L1301.0,894.8 L1302.8,893.5 L1304.7,891.9 L1306.5,890.2 L1308.4,888.5 L1310.2,886.9 L1312.1,885.5 L1313.9,884.4 L1315.8,883.6 L1317.6,882.9 L1319.5,882.6 L1321.3,882.8 L1323.2,883.1 L1325.0,883.6 L1326.9,884.2 L1328.7,884.9 L1330.6,885.8 L1332.4,887.1 L1334.3,888.3 L1336.1,889.5 L1338.0,890.4 L1339.8,891.0 L1341.7,890.8 L1343.5,889.4 L1345.4,887.0 L1347.2,883.9 L1349.1,880.4 L1350.9,874.5 L1352.8,866.3 L1354.6,857.1 L1356.5,847.0 L1358.3,835.1 L1360.2,822.8 L1362.0,810.8 L1363.9,798.3 L1365.7,784.8 L1367.6,769.7 L1369.4,754.6 L1371.3,740.4 L1373.1,726.6 L1375.0,713.4 L1376.8,700.8 L1378.7,688.5 L1380.5,676.0 L1382.4,663.6 L1384.2,651.1 L1386.1,638.0 L1387.9,625.2 L1389.8,614.7 L1391.6,605.1 L1393.5,596.8 L1395.3,590.4 L1397.2,585.8 L1399.0,581.6 L1400.9,578.1 L1402.7,575.6 L1404.6,574.5" fill="none" stroke="#ffa500" style="stroke-width:1.4;stroke-dasharray:11.5 4 1.6 4"/>
<g fill="none" stroke-width="1.25">
<rect x="65.5" y="567.7" width="13.6" height="13.6" stroke="#ff0000"/><circle cx="72.3" cy="574.5" r="0.6" fill="#ff0000" stroke="none" opacity="0.5"/>
<rect x="109.9" y="568.8" width="13.6" height="13.6" stroke="#ff0000"/><circle cx="116.7" cy="575.6" r="0.6" fill="#ff0000" stroke="none" opacity="0.5"/>
<rect x="154.3" y="573.5" width="13.6" height="13.6" stroke="#ff0000"/><circle cx="161.1" cy="580.3" r="0.6" fill="#ff0000" stroke="none" opacity="0.5"/>
<rect x="198.7" y="576.5" width="13.6" height="13.6" stroke="#ff0000"/><circle cx="205.5" cy="583.3" r="0.6" fill="#ff0000" stroke="none" opacity="0.5"/>
<rect x="243.1" y="579.7" width="13.6" height="13.6" stroke="#ff0000"/><circle cx="249.9" cy="586.5" r="0.6" fill="#ff0000" stroke="none" opacity="0.5"/>
<rect x="287.5" y="583.4" width="13.6" height="13.6" stroke="#ff0000"/><circle cx="294.3" cy="590.2" r="0.6" fill="#ff0000" stroke="none" opacity="0.5"/>
<rect x="332.0" y="589.9" width="13.6" height="13.6" stroke="#ff0000"/><circle cx="338.8" cy="596.7" r="0.6" fill="#ff0000" stroke="none" opacity="0.5"/>
<rect x="376.4" y="601.6" width="13.6" height="13.6" stroke="#ff0000"/><circle cx="383.2" cy="608.4" r="0.6" fill="#ff0000" stroke="none" opacity="0.5"/>
<rect x="420.8" y="619.5" width="13.6" height="13.6" stroke="#ff0000"/><circle cx="427.6" cy="626.3" r="0.6" fill="#ff0000" stroke="none" opacity="0.5"/>
<rect x="465.2" y="643.2" width="13.6" height="13.6" stroke="#ff0000"/><circle cx="472.0" cy="650.0" r="0.6" fill="#ff0000" stroke="none" opacity="0.5"/>
<rect x="509.6" y="670.2" width="13.6" height="13.6" stroke="#ff0000"/><circle cx="516.4" cy="677.0" r="0.6" fill="#ff0000" stroke="none" opacity="0.5"/>
<rect x="554.0" y="696.8" width="13.6" height="13.6" stroke="#ff0000"/><circle cx="560.8" cy="703.6" r="0.6" fill="#ff0000" stroke="none" opacity="0.5"/>
<rect x="598.4" y="721.2" width="13.6" height="13.6" stroke="#ff0000"/><circle cx="605.2" cy="728.0" r="0.6" fill="#ff0000" stroke="none" opacity="0.5"/>
<rect x="642.8" y="740.5" width="13.6" height="13.6" stroke="#ff0000"/><circle cx="649.6" cy="747.3" r="0.6" fill="#ff0000" stroke="none" opacity="0.5"/>
<rect x="687.2" y="752.6" width="13.6" height="13.6" stroke="#ff0000"/><circle cx="694.0" cy="759.4" r="0.6" fill="#ff0000" stroke="none" opacity="0.5"/>
<rect x="731.6" y="756.6" width="13.6" height="13.6" stroke="#ff0000"/><circle cx="738.4" cy="763.4" r="0.6" fill="#ff0000" stroke="none" opacity="0.5"/>
<rect x="776.1" y="752.6" width="13.6" height="13.6" stroke="#ff0000"/><circle cx="782.9" cy="759.4" r="0.6" fill="#ff0000" stroke="none" opacity="0.5"/>
<rect x="820.5" y="740.5" width="13.6" height="13.6" stroke="#ff0000"/><circle cx="827.3" cy="747.3" r="0.6" fill="#ff0000" stroke="none" opacity="0.5"/>
<rect x="864.9" y="721.2" width="13.6" height="13.6" stroke="#ff0000"/><circle cx="871.7" cy="728.0" r="0.6" fill="#ff0000" stroke="none" opacity="0.5"/>
<rect x="909.3" y="696.8" width="13.6" height="13.6" stroke="#ff0000"/><circle cx="916.1" cy="703.6" r="0.6" fill="#ff0000" stroke="none" opacity="0.5"/>
<rect x="953.7" y="670.2" width="13.6" height="13.6" stroke="#ff0000"/><circle cx="960.5" cy="677.0" r="0.6" fill="#ff0000" stroke="none" opacity="0.5"/>
<rect x="998.1" y="643.2" width="13.6" height="13.6" stroke="#ff0000"/><circle cx="1004.9" cy="650.0" r="0.6" fill="#ff0000" stroke="none" opacity="0.5"/>
<rect x="1042.5" y="619.5" width="13.6" height="13.6" stroke="#ff0000"/><circle cx="1049.3" cy="626.3" r="0.6" fill="#ff0000" stroke="none" opacity="0.5"/>
<rect x="1086.9" y="601.6" width="13.6" height="13.6" stroke="#ff0000"/><circle cx="1093.7" cy="608.4" r="0.6" fill="#ff0000" stroke="none" opacity="0.5"/>
<rect x="1131.3" y="589.9" width="13.6" height="13.6" stroke="#ff0000"/><circle cx="1138.1" cy="596.7" r="0.6" fill="#ff0000" stroke="none" opacity="0.5"/>
<rect x="1175.8" y="583.4" width="13.6" height="13.6" stroke="#ff0000"/><circle cx="1182.5" cy="590.2" r="0.6" fill="#ff0000" stroke="none" opacity="0.5"/>
<rect x="1220.2" y="579.7" width="13.6" height="13.6" stroke="#ff0000"/><circle cx="1227.0" cy="586.5" r="0.6" fill="#ff0000" stroke="none" opacity="0.5"/>
<rect x="1264.6" y="576.5" width="13.6" height="13.6" stroke="#ff0000"/><circle cx="1271.4" cy="583.3" r="0.6" fill="#ff0000" stroke="none" opacity="0.5"/>
<rect x="1309.0" y="573.5" width="13.6" height="13.6" stroke="#ff0000"/><circle cx="1315.8" cy="580.3" r="0.6" fill="#ff0000" stroke="none" opacity="0.5"/>
<rect x="1353.4" y="568.8" width="13.6" height="13.6" stroke="#ff0000"/><circle cx="1360.2" cy="575.6" r="0.6" fill="#ff0000" stroke="none" opacity="0.5"/>
<rect x="1397.8" y="567.7" width="13.6" height="13.6" stroke="#ff0000"/><circle cx="1404.6" cy="574.5" r="0.6" fill="#ff0000" stroke="none" opacity="0.5"/>
<circle cx="72.3" cy="574.5" r="6.3" stroke="#006600"/><circle cx="72.3" cy="574.5" r="0.6" fill="#006600" stroke="none" opacity="0.5"/>
<circle cx="116.7" cy="594.2" r="6.3" stroke="#006600"/><circle cx="116.7" cy="594.2" r="0.6" fill="#006600" stroke="none" opacity="0.5"/>
<circle cx="161.1" cy="645.2" r="6.3" stroke="#006600"/><circle cx="161.1" cy="645.2" r="0.6" fill="#006600" stroke="none" opacity="0.5"/>
<circle cx="205.5" cy="706.1" r="6.3" stroke="#006600"/><circle cx="205.5" cy="706.1" r="0.6" fill="#006600" stroke="none" opacity="0.5"/>
<circle cx="249.9" cy="760.5" r="6.3" stroke="#006600"/><circle cx="249.9" cy="760.5" r="0.6" fill="#006600" stroke="none" opacity="0.5"/>
<circle cx="294.3" cy="802.8" r="6.3" stroke="#006600"/><circle cx="294.3" cy="802.8" r="0.6" fill="#006600" stroke="none" opacity="0.5"/>
<circle cx="338.8" cy="825.7" r="6.3" stroke="#006600"/><circle cx="338.8" cy="825.7" r="0.6" fill="#006600" stroke="none" opacity="0.5"/>
<circle cx="383.2" cy="825.7" r="6.3" stroke="#006600"/><circle cx="383.2" cy="825.7" r="0.6" fill="#006600" stroke="none" opacity="0.5"/>
<circle cx="427.6" cy="818.4" r="6.3" stroke="#006600"/><circle cx="427.6" cy="818.4" r="0.6" fill="#006600" stroke="none" opacity="0.5"/>
<circle cx="472.0" cy="817.3" r="6.3" stroke="#006600"/><circle cx="472.0" cy="817.3" r="0.6" fill="#006600" stroke="none" opacity="0.5"/>
<circle cx="516.4" cy="824.6" r="6.3" stroke="#006600"/><circle cx="516.4" cy="824.6" r="0.6" fill="#006600" stroke="none" opacity="0.5"/>
<circle cx="560.8" cy="837.4" r="6.3" stroke="#006600"/><circle cx="560.8" cy="837.4" r="0.6" fill="#006600" stroke="none" opacity="0.5"/>
<circle cx="605.2" cy="846.5" r="6.3" stroke="#006600"/><circle cx="605.2" cy="846.5" r="0.6" fill="#006600" stroke="none" opacity="0.5"/>
<circle cx="649.6" cy="849.8" r="6.3" stroke="#006600"/><circle cx="649.6" cy="849.8" r="0.6" fill="#006600" stroke="none" opacity="0.5"/>
<circle cx="694.0" cy="848.3" r="6.3" stroke="#006600"/><circle cx="694.0" cy="848.3" r="0.6" fill="#006600" stroke="none" opacity="0.5"/>
<circle cx="738.4" cy="847.6" r="6.3" stroke="#006600"/><circle cx="738.4" cy="847.6" r="0.6" fill="#006600" stroke="none" opacity="0.5"/>
<circle cx="782.9" cy="848.3" r="6.3" stroke="#006600"/><circle cx="782.9" cy="848.3" r="0.6" fill="#006600" stroke="none" opacity="0.5"/>
<circle cx="827.3" cy="849.8" r="6.3" stroke="#006600"/><circle cx="827.3" cy="849.8" r="0.6" fill="#006600" stroke="none" opacity="0.5"/>
<circle cx="871.7" cy="846.5" r="6.3" stroke="#006600"/><circle cx="871.7" cy="846.5" r="0.6" fill="#006600" stroke="none" opacity="0.5"/>
<circle cx="916.1" cy="837.4" r="6.3" stroke="#006600"/><circle cx="916.1" cy="837.4" r="0.6" fill="#006600" stroke="none" opacity="0.5"/>
<circle cx="960.5" cy="824.6" r="6.3" stroke="#006600"/><circle cx="960.5" cy="824.6" r="0.6" fill="#006600" stroke="none" opacity="0.5"/>
<circle cx="1004.9" cy="817.3" r="6.3" stroke="#006600"/><circle cx="1004.9" cy="817.3" r="0.6" fill="#006600" stroke="none" opacity="0.5"/>
<circle cx="1049.3" cy="818.4" r="6.3" stroke="#006600"/><circle cx="1049.3" cy="818.4" r="0.6" fill="#006600" stroke="none" opacity="0.5"/>
<circle cx="1093.7" cy="825.7" r="6.3" stroke="#006600"/><circle cx="1093.7" cy="825.7" r="0.6" fill="#006600" stroke="none" opacity="0.5"/>
<circle cx="1138.1" cy="825.7" r="6.3" stroke="#006600"/><circle cx="1138.1" cy="825.7" r="0.6" fill="#006600" stroke="none" opacity="0.5"/>
<circle cx="1182.5" cy="802.8" r="6.3" stroke="#006600"/><circle cx="1182.5" cy="802.8" r="0.6" fill="#006600" stroke="none" opacity="0.5"/>
<circle cx="1227.0" cy="760.5" r="6.3" stroke="#006600"/><circle cx="1227.0" cy="760.5" r="0.6" fill="#006600" stroke="none" opacity="0.5"/>
<circle cx="1271.4" cy="706.1" r="6.3" stroke="#006600"/><circle cx="1271.4" cy="706.1" r="0.6" fill="#006600" stroke="none" opacity="0.5"/>
<circle cx="1315.8" cy="645.2" r="6.3" stroke="#006600"/><circle cx="1315.8" cy="645.2" r="0.6" fill="#006600" stroke="none" opacity="0.5"/>
<circle cx="1360.2" cy="594.2" r="6.3" stroke="#006600"/><circle cx="1360.2" cy="594.2" r="0.6" fill="#006600" stroke="none" opacity="0.5"/>
<circle cx="1404.6" cy="574.5" r="6.3" stroke="#006600"/><circle cx="1404.6" cy="574.5" r="0.6" fill="#006600" stroke="none" opacity="0.5"/>
<path d="M72.3,566.6L78.5,576.6L66.1,576.6Z" stroke="#0000ff"/><circle cx="72.3" cy="574.5" r="0.6" fill="#0000ff" stroke="none" opacity="0.5"/>
<path d="M116.7,650.1L122.9,660.1L110.5,660.1Z" stroke="#0000ff"/><circle cx="116.7" cy="655.1" r="0.6" fill="#0000ff" stroke="none" opacity="0.5"/>
<path d="M161.1,802.5L167.3,812.5L154.9,812.5Z" stroke="#0000ff"/><circle cx="161.1" cy="807.5" r="0.6" fill="#0000ff" stroke="none" opacity="0.5"/>
<path d="M205.5,857.2L211.7,867.2L199.3,867.2Z" stroke="#0000ff"/><circle cx="205.5" cy="862.2" r="0.6" fill="#0000ff" stroke="none" opacity="0.5"/>
<path d="M249.9,858.7L256.1,868.7L243.7,868.7Z" stroke="#0000ff"/><circle cx="249.9" cy="863.7" r="0.6" fill="#0000ff" stroke="none" opacity="0.5"/>
<path d="M294.3,869.6L300.5,879.6L288.1,879.6Z" stroke="#0000ff"/><circle cx="294.3" cy="874.6" r="0.6" fill="#0000ff" stroke="none" opacity="0.5"/>
<path d="M338.8,873.2L345.0,883.2L332.6,883.2Z" stroke="#0000ff"/><circle cx="338.8" cy="878.2" r="0.6" fill="#0000ff" stroke="none" opacity="0.5"/>
<path d="M383.2,873.2L389.4,883.2L377.0,883.2Z" stroke="#0000ff"/><circle cx="383.2" cy="878.2" r="0.6" fill="#0000ff" stroke="none" opacity="0.5"/>
<path d="M427.6,876.9L433.8,886.9L421.4,886.9Z" stroke="#0000ff"/><circle cx="427.6" cy="881.9" r="0.6" fill="#0000ff" stroke="none" opacity="0.5"/>
<path d="M472.0,875.8L478.2,885.8L465.8,885.8Z" stroke="#0000ff"/><circle cx="472.0" cy="880.8" r="0.6" fill="#0000ff" stroke="none" opacity="0.5"/>
<path d="M516.4,875.8L522.6,885.8L510.2,885.8Z" stroke="#0000ff"/><circle cx="516.4" cy="880.8" r="0.6" fill="#0000ff" stroke="none" opacity="0.5"/>
<path d="M560.8,878.0L567.0,888.0L554.6,888.0Z" stroke="#0000ff"/><circle cx="560.8" cy="883.0" r="0.6" fill="#0000ff" stroke="none" opacity="0.5"/>
<path d="M605.2,878.0L611.4,888.0L599.0,888.0Z" stroke="#0000ff"/><circle cx="605.2" cy="883.0" r="0.6" fill="#0000ff" stroke="none" opacity="0.5"/>
<path d="M649.6,875.8L655.8,885.8L643.4,885.8Z" stroke="#0000ff"/><circle cx="649.6" cy="880.8" r="0.6" fill="#0000ff" stroke="none" opacity="0.5"/>
<path d="M694.0,876.2L700.2,886.2L687.8,886.2Z" stroke="#0000ff"/><circle cx="694.0" cy="881.2" r="0.6" fill="#0000ff" stroke="none" opacity="0.5"/>
<path d="M738.4,876.5L744.6,886.5L732.2,886.5Z" stroke="#0000ff"/><circle cx="738.4" cy="881.5" r="0.6" fill="#0000ff" stroke="none" opacity="0.5"/>
<path d="M782.9,876.2L789.1,886.2L776.7,886.2Z" stroke="#0000ff"/><circle cx="782.9" cy="881.2" r="0.6" fill="#0000ff" stroke="none" opacity="0.5"/>
<path d="M827.3,875.8L833.5,885.8L821.1,885.8Z" stroke="#0000ff"/><circle cx="827.3" cy="880.8" r="0.6" fill="#0000ff" stroke="none" opacity="0.5"/>
<path d="M871.7,878.0L877.9,888.0L865.5,888.0Z" stroke="#0000ff"/><circle cx="871.7" cy="883.0" r="0.6" fill="#0000ff" stroke="none" opacity="0.5"/>
<path d="M916.1,878.0L922.3,888.0L909.9,888.0Z" stroke="#0000ff"/><circle cx="916.1" cy="883.0" r="0.6" fill="#0000ff" stroke="none" opacity="0.5"/>
<path d="M960.5,875.8L966.7,885.8L954.3,885.8Z" stroke="#0000ff"/><circle cx="960.5" cy="880.8" r="0.6" fill="#0000ff" stroke="none" opacity="0.5"/>
<path d="M1004.9,875.8L1011.1,885.8L998.7,885.8Z" stroke="#0000ff"/><circle cx="1004.9" cy="880.8" r="0.6" fill="#0000ff" stroke="none" opacity="0.5"/>
<path d="M1049.3,876.9L1055.5,886.9L1043.1,886.9Z" stroke="#0000ff"/><circle cx="1049.3" cy="881.9" r="0.6" fill="#0000ff" stroke="none" opacity="0.5"/>
<path d="M1093.7,873.2L1099.9,883.2L1087.5,883.2Z" stroke="#0000ff"/><circle cx="1093.7" cy="878.2" r="0.6" fill="#0000ff" stroke="none" opacity="0.5"/>
<path d="M1138.1,873.2L1144.3,883.2L1131.9,883.2Z" stroke="#0000ff"/><circle cx="1138.1" cy="878.2" r="0.6" fill="#0000ff" stroke="none" opacity="0.5"/>
<path d="M1182.5,869.6L1188.8,879.6L1176.3,879.6Z" stroke="#0000ff"/><circle cx="1182.5" cy="874.6" r="0.6" fill="#0000ff" stroke="none" opacity="0.5"/>
<path d="M1227.0,858.7L1233.2,868.7L1220.8,868.7Z" stroke="#0000ff"/><circle cx="1227.0" cy="863.7" r="0.6" fill="#0000ff" stroke="none" opacity="0.5"/>
<path d="M1271.4,857.2L1277.6,867.2L1265.2,867.2Z" stroke="#0000ff"/><circle cx="1271.4" cy="862.2" r="0.6" fill="#0000ff" stroke="none" opacity="0.5"/>
<path d="M1315.8,802.5L1322.0,812.5L1309.6,812.5Z" stroke="#0000ff"/><circle cx="1315.8" cy="807.5" r="0.6" fill="#0000ff" stroke="none" opacity="0.5"/>
<path d="M1360.2,650.1L1366.4,660.1L1354.0,660.1Z" stroke="#0000ff"/><circle cx="1360.2" cy="655.1" r="0.6" fill="#0000ff" stroke="none" opacity="0.5"/>
<path d="M1404.6,566.6L1410.8,576.6L1398.4,576.6Z" stroke="#0000ff"/><circle cx="1404.6" cy="574.5" r="0.6" fill="#0000ff" stroke="none" opacity="0.5"/>
<path d="M72.3,567.5L79.3,574.5L72.3,581.5L65.3,574.5Z" stroke="#ffa500"/><circle cx="72.3" cy="574.5" r="0.6" fill="#ffa500" stroke="none" opacity="0.5"/>
<path d="M116.7,816.5L123.7,823.5L116.7,830.5L109.7,823.5Z" stroke="#ffa500"/><circle cx="116.7" cy="823.5" r="0.6" fill="#ffa500" stroke="none" opacity="0.5"/>
<path d="M161.1,876.3L168.1,883.3L161.1,890.3L154.1,883.3Z" stroke="#ffa500"/><circle cx="161.1" cy="883.3" r="0.6" fill="#ffa500" stroke="none" opacity="0.5"/>
<path d="M205.5,893.8L212.5,900.8L205.5,907.8L198.5,900.8Z" stroke="#ffa500"/><circle cx="205.5" cy="900.8" r="0.6" fill="#ffa500" stroke="none" opacity="0.5"/>
<path d="M249.9,900.4L256.9,907.4L249.9,914.4L242.9,907.4Z" stroke="#ffa500"/><circle cx="249.9" cy="907.4" r="0.6" fill="#ffa500" stroke="none" opacity="0.5"/>
<path d="M294.3,902.2L301.3,909.2L294.3,916.2L287.3,909.2Z" stroke="#ffa500"/><circle cx="294.3" cy="909.2" r="0.6" fill="#ffa500" stroke="none" opacity="0.5"/>
<path d="M338.8,902.6L345.8,909.6L338.8,916.6L331.8,909.6Z" stroke="#ffa500"/><circle cx="338.8" cy="909.6" r="0.6" fill="#ffa500" stroke="none" opacity="0.5"/>
<path d="M383.2,903.3L390.2,910.3L383.2,917.3L376.2,910.3Z" stroke="#ffa500"/><circle cx="383.2" cy="910.3" r="0.6" fill="#ffa500" stroke="none" opacity="0.5"/>
<path d="M427.6,904.4L434.6,911.4L427.6,918.4L420.6,911.4Z" stroke="#ffa500"/><circle cx="427.6" cy="911.4" r="0.6" fill="#ffa500" stroke="none" opacity="0.5"/>
<path d="M472.0,904.1L479.0,911.1L472.0,918.1L465.0,911.1Z" stroke="#ffa500"/><circle cx="472.0" cy="911.1" r="0.6" fill="#ffa500" stroke="none" opacity="0.5"/>
<path d="M516.4,903.7L523.4,910.7L516.4,917.7L509.4,910.7Z" stroke="#ffa500"/><circle cx="516.4" cy="910.7" r="0.6" fill="#ffa500" stroke="none" opacity="0.5"/>
<path d="M560.8,904.1L567.8,911.1L560.8,918.1L553.8,911.1Z" stroke="#ffa500"/><circle cx="560.8" cy="911.1" r="0.6" fill="#ffa500" stroke="none" opacity="0.5"/>
<path d="M605.2,904.1L612.2,911.1L605.2,918.1L598.2,911.1Z" stroke="#ffa500"/><circle cx="605.2" cy="911.1" r="0.6" fill="#ffa500" stroke="none" opacity="0.5"/>
<path d="M649.6,904.1L656.6,911.1L649.6,918.1L642.6,911.1Z" stroke="#ffa500"/><circle cx="649.6" cy="911.1" r="0.6" fill="#ffa500" stroke="none" opacity="0.5"/>
<path d="M694.0,904.8L701.0,911.8L694.0,918.8L687.0,911.8Z" stroke="#ffa500"/><circle cx="694.0" cy="911.8" r="0.6" fill="#ffa500" stroke="none" opacity="0.5"/>
<path d="M738.4,905.2L745.4,912.2L738.4,919.2L731.4,912.2Z" stroke="#ffa500"/><circle cx="738.4" cy="912.2" r="0.6" fill="#ffa500" stroke="none" opacity="0.5"/>
<path d="M782.9,904.8L789.9,911.8L782.9,918.8L775.9,911.8Z" stroke="#ffa500"/><circle cx="782.9" cy="911.8" r="0.6" fill="#ffa500" stroke="none" opacity="0.5"/>
<path d="M827.3,904.1L834.3,911.1L827.3,918.1L820.3,911.1Z" stroke="#ffa500"/><circle cx="827.3" cy="911.1" r="0.6" fill="#ffa500" stroke="none" opacity="0.5"/>
<path d="M871.7,904.1L878.7,911.1L871.7,918.1L864.7,911.1Z" stroke="#ffa500"/><circle cx="871.7" cy="911.1" r="0.6" fill="#ffa500" stroke="none" opacity="0.5"/>
<path d="M916.1,904.1L923.1,911.1L916.1,918.1L909.1,911.1Z" stroke="#ffa500"/><circle cx="916.1" cy="911.1" r="0.6" fill="#ffa500" stroke="none" opacity="0.5"/>
<path d="M960.5,903.7L967.5,910.7L960.5,917.7L953.5,910.7Z" stroke="#ffa500"/><circle cx="960.5" cy="910.7" r="0.6" fill="#ffa500" stroke="none" opacity="0.5"/>
<path d="M1004.9,904.1L1011.9,911.1L1004.9,918.1L997.9,911.1Z" stroke="#ffa500"/><circle cx="1004.9" cy="911.1" r="0.6" fill="#ffa500" stroke="none" opacity="0.5"/>
<path d="M1049.3,904.4L1056.3,911.4L1049.3,918.4L1042.3,911.4Z" stroke="#ffa500"/><circle cx="1049.3" cy="911.4" r="0.6" fill="#ffa500" stroke="none" opacity="0.5"/>
<path d="M1093.7,903.3L1100.7,910.3L1093.7,917.3L1086.7,910.3Z" stroke="#ffa500"/><circle cx="1093.7" cy="910.3" r="0.6" fill="#ffa500" stroke="none" opacity="0.5"/>
<path d="M1138.1,902.6L1145.1,909.6L1138.1,916.6L1131.1,909.6Z" stroke="#ffa500"/><circle cx="1138.1" cy="909.6" r="0.6" fill="#ffa500" stroke="none" opacity="0.5"/>
<path d="M1182.5,902.2L1189.5,909.2L1182.5,916.2L1175.5,909.2Z" stroke="#ffa500"/><circle cx="1182.5" cy="909.2" r="0.6" fill="#ffa500" stroke="none" opacity="0.5"/>
<path d="M1227.0,900.4L1234.0,907.4L1227.0,914.4L1220.0,907.4Z" stroke="#ffa500"/><circle cx="1227.0" cy="907.4" r="0.6" fill="#ffa500" stroke="none" opacity="0.5"/>
<path d="M1271.4,893.8L1278.4,900.8L1271.4,907.8L1264.4,900.8Z" stroke="#ffa500"/><circle cx="1271.4" cy="900.8" r="0.6" fill="#ffa500" stroke="none" opacity="0.5"/>
<path d="M1315.8,876.3L1322.8,883.3L1315.8,890.3L1308.8,883.3Z" stroke="#ffa500"/><circle cx="1315.8" cy="883.3" r="0.6" fill="#ffa500" stroke="none" opacity="0.5"/>
<path d="M1360.2,816.5L1367.2,823.5L1360.2,830.5L1353.2,823.5Z" stroke="#ffa500"/><circle cx="1360.2" cy="823.5" r="0.6" fill="#ffa500" stroke="none" opacity="0.5"/>
<path d="M1404.6,567.5L1411.6,574.5L1404.6,581.5L1397.6,574.5Z" stroke="#ffa500"/><circle cx="1404.6" cy="574.5" r="0.6" fill="#ffa500" stroke="none" opacity="0.5"/>
</g>
<path d="M183.3,574.5v12M183.3,975.6v-12M294.3,574.5v12M294.3,975.6v-12M405.4,574.5v12M405.4,975.6v-12M516.4,574.5v12M516.4,975.6v-12M627.4,574.5v12M627.4,975.6v-12M738.4,574.5v12M738.4,975.6v-12M849.5,574.5v12M849.5,975.6v-12M960.5,574.5v12M960.5,975.6v-12M1071.5,574.5v12M1071.5,975.6v-12M1182.5,574.5v12M1182.5,975.6v-12M1293.6,574.5v12M1293.6,975.6v-12M72.3,939.1h13M1404.6,939.1h-13M72.3,866.2h13M1404.6,866.2h-13M72.3,793.3h13M1404.6,793.3h-13M72.3,720.4h13M1404.6,720.4h-13M72.3,647.4h13M1404.6,647.4h-13" class="tick"/>
<rect x="72.3" y="574.5" width="1332.3" height="401.1" class="frame"/>
<path d="M178.0,948.9H261.3" fill="none" stroke="#ff0000" style="stroke-width:1.3"/>
<path d="M330.9,948.9H414.2" fill="none" stroke="#006600" style="stroke-width:1.4;stroke-dasharray:4 6.3"/>
<path d="M483.9,948.9H567.2" fill="none" stroke="#0000ff" style="stroke-width:1.7;stroke-dasharray:1.9 3.3"/>
<path d="M636.8,948.9H720.1" fill="none" stroke="#ffa500" style="stroke-width:1.4;stroke-dasharray:11.5 4 1.6 4"/>
<g fill="none" stroke-width="1.4"><rect x="825.1" y="942.1" width="13.6" height="13.6" stroke="#ff0000"/><circle cx="831.9" cy="948.9" r="0.6" fill="#ff0000" stroke="none" opacity="0.5"/></g>
<g fill="none" stroke-width="1.4"><circle cx="984.9" cy="948.9" r="6.3" stroke="#006600"/><circle cx="984.9" cy="948.9" r="0.6" fill="#006600" stroke="none" opacity="0.5"/></g>
<g fill="none" stroke-width="1.4"><path d="M1137.8,941.0L1144.0,951.0L1131.6,951.0Z" stroke="#0000ff"/><circle cx="1137.8" cy="948.9" r="0.6" fill="#0000ff" stroke="none" opacity="0.5"/></g>
<g fill="none" stroke-width="1.4"><path d="M1290.7,941.9L1297.7,948.9L1290.7,955.9L1283.7,948.9Z" stroke="#ffa500"/><circle cx="1290.7" cy="948.9" r="0.6" fill="#ffa500" stroke="none" opacity="0.5"/></g>
</g>
<g filter="url(#blt)">
<text x="161.5" y="414.5" class="t" text-anchor="end">1a</text>
<text x="314.4" y="414.5" class="t" text-anchor="end">2a</text>
<text x="467.4" y="414.5" class="t" text-anchor="end">3a</text>
<text x="620.3" y="414.5" class="t" text-anchor="end">4a</text>
<text x="773.3" y="414.5" class="t" text-anchor="end">1b</text>
<text x="926.2" y="414.5" class="t" text-anchor="end">2b</text>
<text x="1079.2" y="414.5" class="t" text-anchor="end">3b</text>
<text x="1232.1" y="414.5" class="t" text-anchor="end">4b</text>
<text x="54.8" y="405.8" class="t" text-anchor="end">0</text>
<text x="54.8" y="332.9" class="t" text-anchor="end">0.2</text>
<text x="54.8" y="259.9" class="t" text-anchor="end">0.4</text>
<text x="54.8" y="186.9" class="t" text-anchor="end">0.6</text>
<text x="54.8" y="114.0" class="t" text-anchor="end">0.8</text>
<text x="54.8" y="41.0" class="t" text-anchor="end">1</text>
<text x="71.7" y="471.3" class="t" text-anchor="middle">−180</text>
<text x="182.7" y="471.3" class="t" text-anchor="middle">−150</text>
<text x="293.7" y="471.3" class="t" text-anchor="middle">−120</text>
<text x="404.8" y="471.3" class="t" text-anchor="middle">−90</text>
<text x="515.8" y="471.3" class="t" text-anchor="middle">−60</text>
<text x="626.8" y="471.3" class="t" text-anchor="middle">−30</text>
<text x="741.9" y="471.3" class="t" text-anchor="middle">0</text>
<text x="853.0" y="471.3" class="t" text-anchor="middle">30</text>
<text x="964.0" y="471.3" class="t" text-anchor="middle">60</text>
<text x="1075.0" y="471.3" class="t" text-anchor="middle">90</text>
<text x="1186.0" y="471.3" class="t" text-anchor="middle">120</text>
<text x="1297.1" y="471.3" class="t" text-anchor="middle">150</text>
<text x="1408.1" y="471.3" class="t" text-anchor="middle">180</text>
<text x="161.5" y="957.8" class="t" text-anchor="end">1a</text>
<text x="314.4" y="957.8" class="t" text-anchor="end">2a</text>
<text x="467.4" y="957.8" class="t" text-anchor="end">3a</text>
<text x="620.3" y="957.8" class="t" text-anchor="end">4a</text>
<text x="773.3" y="957.8" class="t" text-anchor="end">1b</text>
<text x="926.2" y="957.8" class="t" text-anchor="end">2b</text>
<text x="1079.2" y="957.8" class="t" text-anchor="end">3b</text>
<text x="1232.1" y="957.8" class="t" text-anchor="end">4b</text>
<text x="54.8" y="949.1" class="t" text-anchor="end">0</text>
<text x="54.8" y="876.2" class="t" text-anchor="end">0.2</text>
<text x="54.8" y="803.3" class="t" text-anchor="end">0.4</text>
<text x="54.8" y="730.4" class="t" text-anchor="end">0.6</text>
<text x="54.8" y="657.4" class="t" text-anchor="end">0.8</text>
<text x="54.8" y="584.5" class="t" text-anchor="end">1</text>
<text x="75.8" y="1014.6" class="t" text-anchor="middle">0</text>
<text x="186.8" y="1014.6" class="t" text-anchor="middle">30</text>
<text x="297.8" y="1014.6" class="t" text-anchor="middle">60</text>
<text x="408.9" y="1014.6" class="t" text-anchor="middle">90</text>
<text x="519.9" y="1014.6" class="t" text-anchor="middle">120</text>
<text x="630.9" y="1014.6" class="t" text-anchor="middle">150</text>
<text x="741.9" y="1014.6" class="t" text-anchor="middle">180</text>
<text x="853.0" y="1014.6" class="t" text-anchor="middle">210</text>
<text x="964.0" y="1014.6" class="t" text-anchor="middle">240</text>
<text x="1075.0" y="1014.6" class="t" text-anchor="middle">270</text>
<text x="1186.0" y="1014.6" class="t" text-anchor="middle">300</text>
<text x="1297.1" y="1014.6" class="t" text-anchor="middle">330</text>
<text x="1408.1" y="1014.6" class="t" text-anchor="middle">360</text>
<text x="724.7" y="522.6" class="cap" text-anchor="middle">а</text>
<text x="724.3" y="1065.8" class="cap" text-anchor="middle">б</text>
</g>
</svg>
</body></html>
